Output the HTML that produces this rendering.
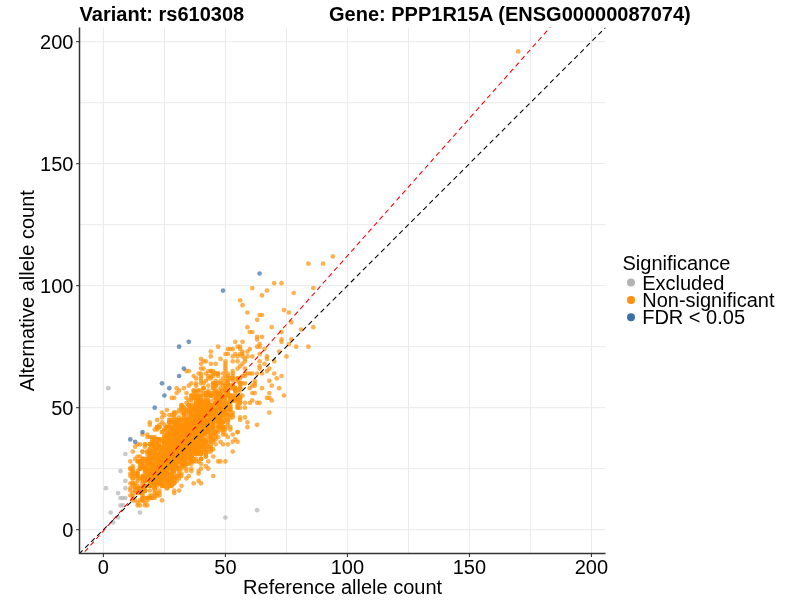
<!DOCTYPE html>
<html><head><meta charset="utf-8"><title>plot</title>
<style>
html,body{margin:0;padding:0;background:#fff;}
svg{display:block;will-change:transform;}
text{font-family:"Liberation Sans",sans-serif;font-size:20px;fill:#000;}
.b{font-weight:bold;}
.g line{stroke:#EAEAEA;stroke-width:1;}
.o circle{fill:#FF9208;fill-opacity:0.7;}
.x circle{fill:#B3B3B3;fill-opacity:0.7;}
.s circle{fill:#3A6FA8;fill-opacity:0.7;}
</style></head><body>
<svg width="800" height="600" viewBox="0 0 800 600">
<rect width="800" height="600" fill="#fff"/>

<g class="g">
<line x1="103.41" x2="103.41" y1="27.5" y2="553.6"/>
<line y1="529.69" y2="529.69" x1="79.5" x2="605.6"/>
<line x1="164.42" x2="164.42" y1="27.5" y2="553.6"/>
<line y1="468.68" y2="468.68" x1="79.5" x2="605.6"/>
<line x1="225.42" x2="225.42" y1="27.5" y2="553.6"/>
<line y1="407.68" y2="407.68" x1="79.5" x2="605.6"/>
<line x1="286.43" x2="286.43" y1="27.5" y2="553.6"/>
<line y1="346.67" y2="346.67" x1="79.5" x2="605.6"/>
<line x1="347.43" x2="347.43" y1="27.5" y2="553.6"/>
<line y1="285.67" y2="285.67" x1="79.5" x2="605.6"/>
<line x1="408.43" x2="408.43" y1="27.5" y2="553.6"/>
<line y1="224.67" y2="224.67" x1="79.5" x2="605.6"/>
<line x1="469.44" x2="469.44" y1="27.5" y2="553.6"/>
<line y1="163.66" y2="163.66" x1="79.5" x2="605.6"/>
<line x1="530.44" x2="530.44" y1="27.5" y2="553.6"/>
<line y1="102.66" y2="102.66" x1="79.5" x2="605.6"/>
<line x1="591.45" x2="591.45" y1="27.5" y2="553.6"/>
<line y1="41.65" y2="41.65" x1="79.5" x2="605.6"/>
</g>
<g class="x">
<circle cx="125.4" cy="454.0" r="2.35"/>
<circle cx="120.5" cy="471.1" r="2.35"/>
<circle cx="125.4" cy="480.9" r="2.35"/>
<circle cx="105.9" cy="488.2" r="2.35"/>
<circle cx="125.4" cy="488.2" r="2.35"/>
<circle cx="118.1" cy="493.1" r="2.35"/>
<circle cx="120.5" cy="498.0" r="2.35"/>
<circle cx="122.9" cy="498.0" r="2.35"/>
<circle cx="125.4" cy="498.0" r="2.35"/>
<circle cx="120.5" cy="505.3" r="2.35"/>
<circle cx="122.9" cy="505.3" r="2.35"/>
<circle cx="110.7" cy="512.6" r="2.35"/>
<circle cx="140.0" cy="512.6" r="2.35"/>
<circle cx="118.1" cy="517.5" r="2.35"/>
<circle cx="113.2" cy="522.4" r="2.35"/>
<circle cx="108.3" cy="388.2" r="2.35"/>
<circle cx="225.4" cy="517.5" r="2.35"/>
<circle cx="257.1" cy="510.2" r="2.35"/>
</g>
<g class="o">
<circle cx="188.8" cy="437.0" r="2.35"/>
<circle cx="183.9" cy="449.2" r="2.35"/>
<circle cx="174.2" cy="449.2" r="2.35"/>
<circle cx="193.7" cy="439.4" r="2.35"/>
<circle cx="164.4" cy="441.8" r="2.35"/>
<circle cx="196.1" cy="412.6" r="2.35"/>
<circle cx="179.1" cy="422.3" r="2.35"/>
<circle cx="181.5" cy="432.1" r="2.35"/>
<circle cx="162.0" cy="480.9" r="2.35"/>
<circle cx="144.9" cy="485.8" r="2.35"/>
<circle cx="147.3" cy="463.8" r="2.35"/>
<circle cx="196.1" cy="434.5" r="2.35"/>
<circle cx="188.8" cy="441.8" r="2.35"/>
<circle cx="154.7" cy="483.3" r="2.35"/>
<circle cx="179.1" cy="419.9" r="2.35"/>
<circle cx="159.5" cy="454.0" r="2.35"/>
<circle cx="166.9" cy="461.4" r="2.35"/>
<circle cx="218.1" cy="405.2" r="2.35"/>
<circle cx="179.1" cy="434.5" r="2.35"/>
<circle cx="181.5" cy="427.2" r="2.35"/>
<circle cx="183.9" cy="427.2" r="2.35"/>
<circle cx="152.2" cy="480.9" r="2.35"/>
<circle cx="186.4" cy="427.2" r="2.35"/>
<circle cx="149.8" cy="463.8" r="2.35"/>
<circle cx="218.1" cy="422.3" r="2.35"/>
<circle cx="215.7" cy="419.9" r="2.35"/>
<circle cx="171.7" cy="458.9" r="2.35"/>
<circle cx="174.2" cy="449.2" r="2.35"/>
<circle cx="147.3" cy="461.4" r="2.35"/>
<circle cx="176.6" cy="437.0" r="2.35"/>
<circle cx="227.9" cy="395.5" r="2.35"/>
<circle cx="164.4" cy="458.9" r="2.35"/>
<circle cx="188.8" cy="444.3" r="2.35"/>
<circle cx="205.9" cy="407.7" r="2.35"/>
<circle cx="162.0" cy="432.1" r="2.35"/>
<circle cx="181.5" cy="437.0" r="2.35"/>
<circle cx="162.0" cy="471.1" r="2.35"/>
<circle cx="176.6" cy="451.6" r="2.35"/>
<circle cx="198.6" cy="402.8" r="2.35"/>
<circle cx="203.5" cy="407.7" r="2.35"/>
<circle cx="225.4" cy="400.4" r="2.35"/>
<circle cx="198.6" cy="407.7" r="2.35"/>
<circle cx="193.7" cy="419.9" r="2.35"/>
<circle cx="140.0" cy="488.2" r="2.35"/>
<circle cx="159.5" cy="458.9" r="2.35"/>
<circle cx="174.2" cy="458.9" r="2.35"/>
<circle cx="208.3" cy="424.8" r="2.35"/>
<circle cx="181.5" cy="441.8" r="2.35"/>
<circle cx="213.2" cy="427.2" r="2.35"/>
<circle cx="196.1" cy="449.2" r="2.35"/>
<circle cx="147.3" cy="454.0" r="2.35"/>
<circle cx="166.9" cy="463.8" r="2.35"/>
<circle cx="193.7" cy="429.6" r="2.35"/>
<circle cx="171.7" cy="454.0" r="2.35"/>
<circle cx="142.5" cy="488.2" r="2.35"/>
<circle cx="198.6" cy="424.8" r="2.35"/>
<circle cx="213.2" cy="405.2" r="2.35"/>
<circle cx="220.5" cy="417.4" r="2.35"/>
<circle cx="203.5" cy="400.4" r="2.35"/>
<circle cx="154.7" cy="483.3" r="2.35"/>
<circle cx="171.7" cy="473.6" r="2.35"/>
<circle cx="164.4" cy="444.3" r="2.35"/>
<circle cx="166.9" cy="461.4" r="2.35"/>
<circle cx="162.0" cy="478.4" r="2.35"/>
<circle cx="179.1" cy="437.0" r="2.35"/>
<circle cx="198.6" cy="446.7" r="2.35"/>
<circle cx="176.6" cy="444.3" r="2.35"/>
<circle cx="181.5" cy="449.2" r="2.35"/>
<circle cx="171.7" cy="466.2" r="2.35"/>
<circle cx="164.4" cy="451.6" r="2.35"/>
<circle cx="188.8" cy="415.0" r="2.35"/>
<circle cx="159.5" cy="483.3" r="2.35"/>
<circle cx="154.7" cy="439.4" r="2.35"/>
<circle cx="215.7" cy="415.0" r="2.35"/>
<circle cx="208.3" cy="451.6" r="2.35"/>
<circle cx="169.3" cy="427.2" r="2.35"/>
<circle cx="157.1" cy="471.1" r="2.35"/>
<circle cx="179.1" cy="456.5" r="2.35"/>
<circle cx="193.7" cy="444.3" r="2.35"/>
<circle cx="183.9" cy="461.4" r="2.35"/>
<circle cx="166.9" cy="434.5" r="2.35"/>
<circle cx="188.8" cy="437.0" r="2.35"/>
<circle cx="191.3" cy="395.5" r="2.35"/>
<circle cx="174.2" cy="456.5" r="2.35"/>
<circle cx="174.2" cy="432.1" r="2.35"/>
<circle cx="215.7" cy="412.6" r="2.35"/>
<circle cx="220.5" cy="405.2" r="2.35"/>
<circle cx="218.1" cy="407.7" r="2.35"/>
<circle cx="203.5" cy="393.0" r="2.35"/>
<circle cx="237.6" cy="378.4" r="2.35"/>
<circle cx="154.7" cy="488.2" r="2.35"/>
<circle cx="157.1" cy="461.4" r="2.35"/>
<circle cx="220.5" cy="412.6" r="2.35"/>
<circle cx="179.1" cy="424.8" r="2.35"/>
<circle cx="188.8" cy="434.5" r="2.35"/>
<circle cx="144.9" cy="471.1" r="2.35"/>
<circle cx="157.1" cy="458.9" r="2.35"/>
<circle cx="205.9" cy="422.3" r="2.35"/>
<circle cx="191.3" cy="412.6" r="2.35"/>
<circle cx="171.7" cy="458.9" r="2.35"/>
<circle cx="157.1" cy="456.5" r="2.35"/>
<circle cx="176.6" cy="468.7" r="2.35"/>
<circle cx="196.1" cy="422.3" r="2.35"/>
<circle cx="149.8" cy="471.1" r="2.35"/>
<circle cx="191.3" cy="446.7" r="2.35"/>
<circle cx="154.7" cy="478.4" r="2.35"/>
<circle cx="215.7" cy="415.0" r="2.35"/>
<circle cx="183.9" cy="427.2" r="2.35"/>
<circle cx="232.7" cy="400.4" r="2.35"/>
<circle cx="135.1" cy="488.2" r="2.35"/>
<circle cx="166.9" cy="454.0" r="2.35"/>
<circle cx="157.1" cy="468.7" r="2.35"/>
<circle cx="213.2" cy="383.3" r="2.35"/>
<circle cx="191.3" cy="437.0" r="2.35"/>
<circle cx="179.1" cy="424.8" r="2.35"/>
<circle cx="198.6" cy="410.1" r="2.35"/>
<circle cx="157.1" cy="463.8" r="2.35"/>
<circle cx="171.7" cy="458.9" r="2.35"/>
<circle cx="159.5" cy="476.0" r="2.35"/>
<circle cx="188.8" cy="439.4" r="2.35"/>
<circle cx="169.3" cy="444.3" r="2.35"/>
<circle cx="196.1" cy="419.9" r="2.35"/>
<circle cx="198.6" cy="432.1" r="2.35"/>
<circle cx="188.8" cy="432.1" r="2.35"/>
<circle cx="176.6" cy="441.8" r="2.35"/>
<circle cx="193.7" cy="441.8" r="2.35"/>
<circle cx="179.1" cy="461.4" r="2.35"/>
<circle cx="220.5" cy="402.8" r="2.35"/>
<circle cx="210.8" cy="415.0" r="2.35"/>
<circle cx="196.1" cy="432.1" r="2.35"/>
<circle cx="188.8" cy="449.2" r="2.35"/>
<circle cx="181.5" cy="434.5" r="2.35"/>
<circle cx="203.5" cy="419.9" r="2.35"/>
<circle cx="188.8" cy="458.9" r="2.35"/>
<circle cx="169.3" cy="422.3" r="2.35"/>
<circle cx="179.1" cy="451.6" r="2.35"/>
<circle cx="183.9" cy="446.7" r="2.35"/>
<circle cx="147.3" cy="478.4" r="2.35"/>
<circle cx="166.9" cy="463.8" r="2.35"/>
<circle cx="166.9" cy="458.9" r="2.35"/>
<circle cx="140.0" cy="461.4" r="2.35"/>
<circle cx="176.6" cy="444.3" r="2.35"/>
<circle cx="186.4" cy="422.3" r="2.35"/>
<circle cx="149.8" cy="454.0" r="2.35"/>
<circle cx="166.9" cy="427.2" r="2.35"/>
<circle cx="191.3" cy="419.9" r="2.35"/>
<circle cx="149.8" cy="458.9" r="2.35"/>
<circle cx="171.7" cy="471.1" r="2.35"/>
<circle cx="201.0" cy="412.6" r="2.35"/>
<circle cx="186.4" cy="446.7" r="2.35"/>
<circle cx="164.4" cy="466.2" r="2.35"/>
<circle cx="171.7" cy="449.2" r="2.35"/>
<circle cx="174.2" cy="434.5" r="2.35"/>
<circle cx="183.9" cy="415.0" r="2.35"/>
<circle cx="181.5" cy="432.1" r="2.35"/>
<circle cx="174.2" cy="427.2" r="2.35"/>
<circle cx="201.0" cy="446.7" r="2.35"/>
<circle cx="203.5" cy="427.2" r="2.35"/>
<circle cx="159.5" cy="483.3" r="2.35"/>
<circle cx="208.3" cy="410.1" r="2.35"/>
<circle cx="132.7" cy="468.7" r="2.35"/>
<circle cx="162.0" cy="449.2" r="2.35"/>
<circle cx="169.3" cy="461.4" r="2.35"/>
<circle cx="176.6" cy="429.6" r="2.35"/>
<circle cx="162.0" cy="473.6" r="2.35"/>
<circle cx="159.5" cy="471.1" r="2.35"/>
<circle cx="218.1" cy="393.0" r="2.35"/>
<circle cx="176.6" cy="434.5" r="2.35"/>
<circle cx="174.2" cy="444.3" r="2.35"/>
<circle cx="147.3" cy="471.1" r="2.35"/>
<circle cx="191.3" cy="451.6" r="2.35"/>
<circle cx="227.9" cy="407.7" r="2.35"/>
<circle cx="171.7" cy="463.8" r="2.35"/>
<circle cx="196.1" cy="419.9" r="2.35"/>
<circle cx="220.5" cy="397.9" r="2.35"/>
<circle cx="154.7" cy="468.7" r="2.35"/>
<circle cx="196.1" cy="390.6" r="2.35"/>
<circle cx="130.3" cy="473.6" r="2.35"/>
<circle cx="213.2" cy="422.3" r="2.35"/>
<circle cx="181.5" cy="454.0" r="2.35"/>
<circle cx="142.5" cy="451.6" r="2.35"/>
<circle cx="183.9" cy="444.3" r="2.35"/>
<circle cx="157.1" cy="444.3" r="2.35"/>
<circle cx="132.7" cy="466.2" r="2.35"/>
<circle cx="225.4" cy="405.2" r="2.35"/>
<circle cx="225.4" cy="397.9" r="2.35"/>
<circle cx="159.5" cy="466.2" r="2.35"/>
<circle cx="183.9" cy="458.9" r="2.35"/>
<circle cx="181.5" cy="461.4" r="2.35"/>
<circle cx="181.5" cy="449.2" r="2.35"/>
<circle cx="147.3" cy="463.8" r="2.35"/>
<circle cx="220.5" cy="407.7" r="2.35"/>
<circle cx="188.8" cy="437.0" r="2.35"/>
<circle cx="166.9" cy="468.7" r="2.35"/>
<circle cx="183.9" cy="463.8" r="2.35"/>
<circle cx="152.2" cy="444.3" r="2.35"/>
<circle cx="213.2" cy="422.3" r="2.35"/>
<circle cx="201.0" cy="410.1" r="2.35"/>
<circle cx="171.7" cy="480.9" r="2.35"/>
<circle cx="183.9" cy="429.6" r="2.35"/>
<circle cx="152.2" cy="451.6" r="2.35"/>
<circle cx="154.7" cy="490.6" r="2.35"/>
<circle cx="157.1" cy="463.8" r="2.35"/>
<circle cx="196.1" cy="449.2" r="2.35"/>
<circle cx="144.9" cy="473.6" r="2.35"/>
<circle cx="166.9" cy="458.9" r="2.35"/>
<circle cx="196.1" cy="419.9" r="2.35"/>
<circle cx="154.7" cy="444.3" r="2.35"/>
<circle cx="162.0" cy="454.0" r="2.35"/>
<circle cx="149.8" cy="451.6" r="2.35"/>
<circle cx="137.6" cy="478.4" r="2.35"/>
<circle cx="188.8" cy="456.5" r="2.35"/>
<circle cx="183.9" cy="434.5" r="2.35"/>
<circle cx="183.9" cy="429.6" r="2.35"/>
<circle cx="171.7" cy="478.4" r="2.35"/>
<circle cx="149.8" cy="454.0" r="2.35"/>
<circle cx="210.8" cy="410.1" r="2.35"/>
<circle cx="159.5" cy="461.4" r="2.35"/>
<circle cx="186.4" cy="456.5" r="2.35"/>
<circle cx="157.1" cy="463.8" r="2.35"/>
<circle cx="162.0" cy="468.7" r="2.35"/>
<circle cx="149.8" cy="476.0" r="2.35"/>
<circle cx="164.4" cy="437.0" r="2.35"/>
<circle cx="152.2" cy="495.5" r="2.35"/>
<circle cx="205.9" cy="456.5" r="2.35"/>
<circle cx="193.7" cy="449.2" r="2.35"/>
<circle cx="193.7" cy="446.7" r="2.35"/>
<circle cx="225.4" cy="380.8" r="2.35"/>
<circle cx="191.3" cy="449.2" r="2.35"/>
<circle cx="181.5" cy="434.5" r="2.35"/>
<circle cx="176.6" cy="468.7" r="2.35"/>
<circle cx="179.1" cy="434.5" r="2.35"/>
<circle cx="164.4" cy="424.8" r="2.35"/>
<circle cx="171.7" cy="473.6" r="2.35"/>
<circle cx="166.9" cy="446.7" r="2.35"/>
<circle cx="196.1" cy="444.3" r="2.35"/>
<circle cx="183.9" cy="429.6" r="2.35"/>
<circle cx="164.4" cy="449.2" r="2.35"/>
<circle cx="203.5" cy="441.8" r="2.35"/>
<circle cx="186.4" cy="461.4" r="2.35"/>
<circle cx="176.6" cy="478.4" r="2.35"/>
<circle cx="179.1" cy="458.9" r="2.35"/>
<circle cx="164.4" cy="478.4" r="2.35"/>
<circle cx="205.9" cy="446.7" r="2.35"/>
<circle cx="174.2" cy="449.2" r="2.35"/>
<circle cx="142.5" cy="476.0" r="2.35"/>
<circle cx="205.9" cy="439.4" r="2.35"/>
<circle cx="203.5" cy="427.2" r="2.35"/>
<circle cx="179.1" cy="444.3" r="2.35"/>
<circle cx="203.5" cy="424.8" r="2.35"/>
<circle cx="157.1" cy="483.3" r="2.35"/>
<circle cx="218.1" cy="383.3" r="2.35"/>
<circle cx="186.4" cy="419.9" r="2.35"/>
<circle cx="210.8" cy="395.5" r="2.35"/>
<circle cx="135.1" cy="500.4" r="2.35"/>
<circle cx="154.7" cy="439.4" r="2.35"/>
<circle cx="181.5" cy="451.6" r="2.35"/>
<circle cx="171.7" cy="427.2" r="2.35"/>
<circle cx="162.0" cy="478.4" r="2.35"/>
<circle cx="196.1" cy="417.4" r="2.35"/>
<circle cx="191.3" cy="432.1" r="2.35"/>
<circle cx="174.2" cy="466.2" r="2.35"/>
<circle cx="213.2" cy="412.6" r="2.35"/>
<circle cx="183.9" cy="451.6" r="2.35"/>
<circle cx="181.5" cy="410.1" r="2.35"/>
<circle cx="166.9" cy="437.0" r="2.35"/>
<circle cx="162.0" cy="458.9" r="2.35"/>
<circle cx="166.9" cy="437.0" r="2.35"/>
<circle cx="186.4" cy="410.1" r="2.35"/>
<circle cx="176.6" cy="427.2" r="2.35"/>
<circle cx="213.2" cy="427.2" r="2.35"/>
<circle cx="201.0" cy="429.6" r="2.35"/>
<circle cx="225.4" cy="419.9" r="2.35"/>
<circle cx="196.1" cy="446.7" r="2.35"/>
<circle cx="174.2" cy="427.2" r="2.35"/>
<circle cx="166.9" cy="427.2" r="2.35"/>
<circle cx="215.7" cy="410.1" r="2.35"/>
<circle cx="154.7" cy="480.9" r="2.35"/>
<circle cx="198.6" cy="424.8" r="2.35"/>
<circle cx="140.0" cy="468.7" r="2.35"/>
<circle cx="205.9" cy="422.3" r="2.35"/>
<circle cx="183.9" cy="461.4" r="2.35"/>
<circle cx="176.6" cy="439.4" r="2.35"/>
<circle cx="191.3" cy="427.2" r="2.35"/>
<circle cx="196.1" cy="400.4" r="2.35"/>
<circle cx="159.5" cy="458.9" r="2.35"/>
<circle cx="169.3" cy="439.4" r="2.35"/>
<circle cx="188.8" cy="424.8" r="2.35"/>
<circle cx="164.4" cy="449.2" r="2.35"/>
<circle cx="225.4" cy="388.2" r="2.35"/>
<circle cx="196.1" cy="432.1" r="2.35"/>
<circle cx="183.9" cy="439.4" r="2.35"/>
<circle cx="179.1" cy="419.9" r="2.35"/>
<circle cx="149.8" cy="444.3" r="2.35"/>
<circle cx="147.3" cy="471.1" r="2.35"/>
<circle cx="174.2" cy="466.2" r="2.35"/>
<circle cx="201.0" cy="437.0" r="2.35"/>
<circle cx="179.1" cy="449.2" r="2.35"/>
<circle cx="149.8" cy="449.2" r="2.35"/>
<circle cx="157.1" cy="461.4" r="2.35"/>
<circle cx="186.4" cy="437.0" r="2.35"/>
<circle cx="183.9" cy="454.0" r="2.35"/>
<circle cx="201.0" cy="402.8" r="2.35"/>
<circle cx="157.1" cy="463.8" r="2.35"/>
<circle cx="183.9" cy="439.4" r="2.35"/>
<circle cx="179.1" cy="449.2" r="2.35"/>
<circle cx="186.4" cy="402.8" r="2.35"/>
<circle cx="162.0" cy="439.4" r="2.35"/>
<circle cx="201.0" cy="402.8" r="2.35"/>
<circle cx="169.3" cy="458.9" r="2.35"/>
<circle cx="188.8" cy="449.2" r="2.35"/>
<circle cx="210.8" cy="415.0" r="2.35"/>
<circle cx="154.7" cy="488.2" r="2.35"/>
<circle cx="162.0" cy="454.0" r="2.35"/>
<circle cx="169.3" cy="454.0" r="2.35"/>
<circle cx="130.3" cy="488.2" r="2.35"/>
<circle cx="186.4" cy="419.9" r="2.35"/>
<circle cx="142.5" cy="480.9" r="2.35"/>
<circle cx="171.7" cy="485.8" r="2.35"/>
<circle cx="188.8" cy="432.1" r="2.35"/>
<circle cx="205.9" cy="432.1" r="2.35"/>
<circle cx="196.1" cy="424.8" r="2.35"/>
<circle cx="166.9" cy="434.5" r="2.35"/>
<circle cx="144.9" cy="478.4" r="2.35"/>
<circle cx="164.4" cy="451.6" r="2.35"/>
<circle cx="183.9" cy="437.0" r="2.35"/>
<circle cx="183.9" cy="449.2" r="2.35"/>
<circle cx="181.5" cy="456.5" r="2.35"/>
<circle cx="198.6" cy="461.4" r="2.35"/>
<circle cx="218.1" cy="419.9" r="2.35"/>
<circle cx="186.4" cy="446.7" r="2.35"/>
<circle cx="198.6" cy="429.6" r="2.35"/>
<circle cx="201.0" cy="444.3" r="2.35"/>
<circle cx="174.2" cy="461.4" r="2.35"/>
<circle cx="223.0" cy="427.2" r="2.35"/>
<circle cx="215.7" cy="415.0" r="2.35"/>
<circle cx="162.0" cy="449.2" r="2.35"/>
<circle cx="159.5" cy="458.9" r="2.35"/>
<circle cx="181.5" cy="451.6" r="2.35"/>
<circle cx="169.3" cy="456.5" r="2.35"/>
<circle cx="193.7" cy="422.3" r="2.35"/>
<circle cx="162.0" cy="422.3" r="2.35"/>
<circle cx="171.7" cy="463.8" r="2.35"/>
<circle cx="152.2" cy="466.2" r="2.35"/>
<circle cx="162.0" cy="449.2" r="2.35"/>
<circle cx="193.7" cy="446.7" r="2.35"/>
<circle cx="208.3" cy="410.1" r="2.35"/>
<circle cx="196.1" cy="422.3" r="2.35"/>
<circle cx="210.8" cy="417.4" r="2.35"/>
<circle cx="223.0" cy="383.3" r="2.35"/>
<circle cx="188.8" cy="412.6" r="2.35"/>
<circle cx="142.5" cy="466.2" r="2.35"/>
<circle cx="181.5" cy="446.7" r="2.35"/>
<circle cx="152.2" cy="473.6" r="2.35"/>
<circle cx="157.1" cy="493.1" r="2.35"/>
<circle cx="181.5" cy="437.0" r="2.35"/>
<circle cx="181.5" cy="424.8" r="2.35"/>
<circle cx="203.5" cy="415.0" r="2.35"/>
<circle cx="181.5" cy="432.1" r="2.35"/>
<circle cx="166.9" cy="444.3" r="2.35"/>
<circle cx="201.0" cy="395.5" r="2.35"/>
<circle cx="176.6" cy="454.0" r="2.35"/>
<circle cx="159.5" cy="461.4" r="2.35"/>
<circle cx="174.2" cy="451.6" r="2.35"/>
<circle cx="154.7" cy="478.4" r="2.35"/>
<circle cx="191.3" cy="429.6" r="2.35"/>
<circle cx="154.7" cy="493.1" r="2.35"/>
<circle cx="205.9" cy="400.4" r="2.35"/>
<circle cx="169.3" cy="422.3" r="2.35"/>
<circle cx="191.3" cy="397.9" r="2.35"/>
<circle cx="147.3" cy="458.9" r="2.35"/>
<circle cx="210.8" cy="378.4" r="2.35"/>
<circle cx="225.4" cy="410.1" r="2.35"/>
<circle cx="183.9" cy="441.8" r="2.35"/>
<circle cx="193.7" cy="390.6" r="2.35"/>
<circle cx="196.1" cy="449.2" r="2.35"/>
<circle cx="220.5" cy="383.3" r="2.35"/>
<circle cx="142.5" cy="478.4" r="2.35"/>
<circle cx="188.8" cy="437.0" r="2.35"/>
<circle cx="208.3" cy="402.8" r="2.35"/>
<circle cx="220.5" cy="410.1" r="2.35"/>
<circle cx="201.0" cy="397.9" r="2.35"/>
<circle cx="181.5" cy="419.9" r="2.35"/>
<circle cx="176.6" cy="476.0" r="2.35"/>
<circle cx="205.9" cy="424.8" r="2.35"/>
<circle cx="179.1" cy="454.0" r="2.35"/>
<circle cx="191.3" cy="456.5" r="2.35"/>
<circle cx="193.7" cy="451.6" r="2.35"/>
<circle cx="186.4" cy="437.0" r="2.35"/>
<circle cx="164.4" cy="466.2" r="2.35"/>
<circle cx="225.4" cy="429.6" r="2.35"/>
<circle cx="198.6" cy="437.0" r="2.35"/>
<circle cx="220.5" cy="388.2" r="2.35"/>
<circle cx="220.5" cy="419.9" r="2.35"/>
<circle cx="174.2" cy="417.4" r="2.35"/>
<circle cx="142.5" cy="461.4" r="2.35"/>
<circle cx="201.0" cy="454.0" r="2.35"/>
<circle cx="205.9" cy="441.8" r="2.35"/>
<circle cx="191.3" cy="422.3" r="2.35"/>
<circle cx="201.0" cy="446.7" r="2.35"/>
<circle cx="174.2" cy="454.0" r="2.35"/>
<circle cx="220.5" cy="407.7" r="2.35"/>
<circle cx="186.4" cy="424.8" r="2.35"/>
<circle cx="208.3" cy="437.0" r="2.35"/>
<circle cx="215.7" cy="380.8" r="2.35"/>
<circle cx="227.9" cy="393.0" r="2.35"/>
<circle cx="174.2" cy="483.3" r="2.35"/>
<circle cx="179.1" cy="434.5" r="2.35"/>
<circle cx="171.7" cy="441.8" r="2.35"/>
<circle cx="230.3" cy="395.5" r="2.35"/>
<circle cx="203.5" cy="424.8" r="2.35"/>
<circle cx="164.4" cy="451.6" r="2.35"/>
<circle cx="174.2" cy="424.8" r="2.35"/>
<circle cx="171.7" cy="449.2" r="2.35"/>
<circle cx="181.5" cy="429.6" r="2.35"/>
<circle cx="176.6" cy="451.6" r="2.35"/>
<circle cx="196.1" cy="432.1" r="2.35"/>
<circle cx="237.6" cy="400.4" r="2.35"/>
<circle cx="215.7" cy="410.1" r="2.35"/>
<circle cx="132.7" cy="478.4" r="2.35"/>
<circle cx="203.5" cy="407.7" r="2.35"/>
<circle cx="201.0" cy="400.4" r="2.35"/>
<circle cx="215.7" cy="434.5" r="2.35"/>
<circle cx="179.1" cy="432.1" r="2.35"/>
<circle cx="142.5" cy="498.0" r="2.35"/>
<circle cx="166.9" cy="473.6" r="2.35"/>
<circle cx="188.8" cy="451.6" r="2.35"/>
<circle cx="186.4" cy="410.1" r="2.35"/>
<circle cx="157.1" cy="456.5" r="2.35"/>
<circle cx="193.7" cy="444.3" r="2.35"/>
<circle cx="193.7" cy="451.6" r="2.35"/>
<circle cx="183.9" cy="441.8" r="2.35"/>
<circle cx="191.3" cy="439.4" r="2.35"/>
<circle cx="188.8" cy="400.4" r="2.35"/>
<circle cx="191.3" cy="461.4" r="2.35"/>
<circle cx="201.0" cy="458.9" r="2.35"/>
<circle cx="166.9" cy="466.2" r="2.35"/>
<circle cx="176.6" cy="449.2" r="2.35"/>
<circle cx="164.4" cy="458.9" r="2.35"/>
<circle cx="191.3" cy="415.0" r="2.35"/>
<circle cx="174.2" cy="461.4" r="2.35"/>
<circle cx="186.4" cy="432.1" r="2.35"/>
<circle cx="137.6" cy="476.0" r="2.35"/>
<circle cx="140.0" cy="493.1" r="2.35"/>
<circle cx="157.1" cy="446.7" r="2.35"/>
<circle cx="181.5" cy="444.3" r="2.35"/>
<circle cx="137.6" cy="461.4" r="2.35"/>
<circle cx="157.1" cy="463.8" r="2.35"/>
<circle cx="171.7" cy="473.6" r="2.35"/>
<circle cx="166.9" cy="473.6" r="2.35"/>
<circle cx="166.9" cy="488.2" r="2.35"/>
<circle cx="193.7" cy="461.4" r="2.35"/>
<circle cx="203.5" cy="415.0" r="2.35"/>
<circle cx="183.9" cy="419.9" r="2.35"/>
<circle cx="144.9" cy="446.7" r="2.35"/>
<circle cx="181.5" cy="444.3" r="2.35"/>
<circle cx="188.8" cy="439.4" r="2.35"/>
<circle cx="152.2" cy="498.0" r="2.35"/>
<circle cx="205.9" cy="395.5" r="2.35"/>
<circle cx="162.0" cy="456.5" r="2.35"/>
<circle cx="159.5" cy="480.9" r="2.35"/>
<circle cx="154.7" cy="463.8" r="2.35"/>
<circle cx="159.5" cy="454.0" r="2.35"/>
<circle cx="215.7" cy="402.8" r="2.35"/>
<circle cx="181.5" cy="451.6" r="2.35"/>
<circle cx="152.2" cy="480.9" r="2.35"/>
<circle cx="157.1" cy="441.8" r="2.35"/>
<circle cx="166.9" cy="478.4" r="2.35"/>
<circle cx="232.7" cy="400.4" r="2.35"/>
<circle cx="154.7" cy="456.5" r="2.35"/>
<circle cx="159.5" cy="490.6" r="2.35"/>
<circle cx="140.0" cy="500.4" r="2.35"/>
<circle cx="196.1" cy="461.4" r="2.35"/>
<circle cx="174.2" cy="412.6" r="2.35"/>
<circle cx="171.7" cy="434.5" r="2.35"/>
<circle cx="135.1" cy="485.8" r="2.35"/>
<circle cx="166.9" cy="456.5" r="2.35"/>
<circle cx="198.6" cy="434.5" r="2.35"/>
<circle cx="174.2" cy="458.9" r="2.35"/>
<circle cx="191.3" cy="417.4" r="2.35"/>
<circle cx="157.1" cy="483.3" r="2.35"/>
<circle cx="162.0" cy="476.0" r="2.35"/>
<circle cx="191.3" cy="451.6" r="2.35"/>
<circle cx="169.3" cy="432.1" r="2.35"/>
<circle cx="213.2" cy="412.6" r="2.35"/>
<circle cx="169.3" cy="444.3" r="2.35"/>
<circle cx="188.8" cy="441.8" r="2.35"/>
<circle cx="193.7" cy="419.9" r="2.35"/>
<circle cx="210.8" cy="437.0" r="2.35"/>
<circle cx="171.7" cy="429.6" r="2.35"/>
<circle cx="227.9" cy="424.8" r="2.35"/>
<circle cx="164.4" cy="456.5" r="2.35"/>
<circle cx="164.4" cy="451.6" r="2.35"/>
<circle cx="166.9" cy="456.5" r="2.35"/>
<circle cx="179.1" cy="471.1" r="2.35"/>
<circle cx="159.5" cy="449.2" r="2.35"/>
<circle cx="201.0" cy="451.6" r="2.35"/>
<circle cx="210.8" cy="417.4" r="2.35"/>
<circle cx="174.2" cy="466.2" r="2.35"/>
<circle cx="201.0" cy="429.6" r="2.35"/>
<circle cx="164.4" cy="444.3" r="2.35"/>
<circle cx="186.4" cy="427.2" r="2.35"/>
<circle cx="201.0" cy="407.7" r="2.35"/>
<circle cx="171.7" cy="473.6" r="2.35"/>
<circle cx="193.7" cy="437.0" r="2.35"/>
<circle cx="169.3" cy="466.2" r="2.35"/>
<circle cx="179.1" cy="437.0" r="2.35"/>
<circle cx="159.5" cy="454.0" r="2.35"/>
<circle cx="157.1" cy="456.5" r="2.35"/>
<circle cx="191.3" cy="437.0" r="2.35"/>
<circle cx="191.3" cy="461.4" r="2.35"/>
<circle cx="203.5" cy="419.9" r="2.35"/>
<circle cx="183.9" cy="449.2" r="2.35"/>
<circle cx="152.2" cy="463.8" r="2.35"/>
<circle cx="137.6" cy="490.6" r="2.35"/>
<circle cx="186.4" cy="422.3" r="2.35"/>
<circle cx="169.3" cy="463.8" r="2.35"/>
<circle cx="174.2" cy="422.3" r="2.35"/>
<circle cx="174.2" cy="471.1" r="2.35"/>
<circle cx="188.8" cy="422.3" r="2.35"/>
<circle cx="230.3" cy="417.4" r="2.35"/>
<circle cx="210.8" cy="395.5" r="2.35"/>
<circle cx="237.6" cy="405.2" r="2.35"/>
<circle cx="181.5" cy="439.4" r="2.35"/>
<circle cx="223.0" cy="415.0" r="2.35"/>
<circle cx="198.6" cy="434.5" r="2.35"/>
<circle cx="176.6" cy="446.7" r="2.35"/>
<circle cx="171.7" cy="454.0" r="2.35"/>
<circle cx="166.9" cy="466.2" r="2.35"/>
<circle cx="196.1" cy="383.3" r="2.35"/>
<circle cx="186.4" cy="439.4" r="2.35"/>
<circle cx="174.2" cy="468.7" r="2.35"/>
<circle cx="171.7" cy="434.5" r="2.35"/>
<circle cx="140.0" cy="466.2" r="2.35"/>
<circle cx="135.1" cy="458.9" r="2.35"/>
<circle cx="240.1" cy="395.5" r="2.35"/>
<circle cx="140.0" cy="468.7" r="2.35"/>
<circle cx="218.1" cy="376.0" r="2.35"/>
<circle cx="169.3" cy="456.5" r="2.35"/>
<circle cx="193.7" cy="424.8" r="2.35"/>
<circle cx="232.7" cy="397.9" r="2.35"/>
<circle cx="191.3" cy="395.5" r="2.35"/>
<circle cx="201.0" cy="458.9" r="2.35"/>
<circle cx="181.5" cy="454.0" r="2.35"/>
<circle cx="174.2" cy="444.3" r="2.35"/>
<circle cx="176.6" cy="412.6" r="2.35"/>
<circle cx="132.7" cy="495.5" r="2.35"/>
<circle cx="166.9" cy="441.8" r="2.35"/>
<circle cx="205.9" cy="441.8" r="2.35"/>
<circle cx="174.2" cy="451.6" r="2.35"/>
<circle cx="144.9" cy="458.9" r="2.35"/>
<circle cx="196.1" cy="417.4" r="2.35"/>
<circle cx="164.4" cy="463.8" r="2.35"/>
<circle cx="208.3" cy="405.2" r="2.35"/>
<circle cx="201.0" cy="429.6" r="2.35"/>
<circle cx="186.4" cy="441.8" r="2.35"/>
<circle cx="225.4" cy="412.6" r="2.35"/>
<circle cx="193.7" cy="422.3" r="2.35"/>
<circle cx="176.6" cy="456.5" r="2.35"/>
<circle cx="208.3" cy="419.9" r="2.35"/>
<circle cx="201.0" cy="422.3" r="2.35"/>
<circle cx="149.8" cy="476.0" r="2.35"/>
<circle cx="162.0" cy="485.8" r="2.35"/>
<circle cx="166.9" cy="463.8" r="2.35"/>
<circle cx="201.0" cy="410.1" r="2.35"/>
<circle cx="225.4" cy="405.2" r="2.35"/>
<circle cx="171.7" cy="432.1" r="2.35"/>
<circle cx="183.9" cy="422.3" r="2.35"/>
<circle cx="196.1" cy="446.7" r="2.35"/>
<circle cx="142.5" cy="478.4" r="2.35"/>
<circle cx="144.9" cy="444.3" r="2.35"/>
<circle cx="198.6" cy="390.6" r="2.35"/>
<circle cx="213.2" cy="410.1" r="2.35"/>
<circle cx="215.7" cy="385.7" r="2.35"/>
<circle cx="213.2" cy="419.9" r="2.35"/>
<circle cx="188.8" cy="424.8" r="2.35"/>
<circle cx="193.7" cy="424.8" r="2.35"/>
<circle cx="147.3" cy="471.1" r="2.35"/>
<circle cx="176.6" cy="439.4" r="2.35"/>
<circle cx="220.5" cy="407.7" r="2.35"/>
<circle cx="205.9" cy="407.7" r="2.35"/>
<circle cx="196.1" cy="410.1" r="2.35"/>
<circle cx="232.7" cy="385.7" r="2.35"/>
<circle cx="174.2" cy="437.0" r="2.35"/>
<circle cx="205.9" cy="429.6" r="2.35"/>
<circle cx="142.5" cy="458.9" r="2.35"/>
<circle cx="152.2" cy="441.8" r="2.35"/>
<circle cx="152.2" cy="468.7" r="2.35"/>
<circle cx="149.8" cy="480.9" r="2.35"/>
<circle cx="213.2" cy="434.5" r="2.35"/>
<circle cx="147.3" cy="473.6" r="2.35"/>
<circle cx="208.3" cy="395.5" r="2.35"/>
<circle cx="191.3" cy="458.9" r="2.35"/>
<circle cx="171.7" cy="441.8" r="2.35"/>
<circle cx="149.8" cy="468.7" r="2.35"/>
<circle cx="193.7" cy="422.3" r="2.35"/>
<circle cx="171.7" cy="476.0" r="2.35"/>
<circle cx="198.6" cy="410.1" r="2.35"/>
<circle cx="223.0" cy="429.6" r="2.35"/>
<circle cx="132.7" cy="471.1" r="2.35"/>
<circle cx="198.6" cy="419.9" r="2.35"/>
<circle cx="198.6" cy="395.5" r="2.35"/>
<circle cx="164.4" cy="473.6" r="2.35"/>
<circle cx="201.0" cy="439.4" r="2.35"/>
<circle cx="203.5" cy="410.1" r="2.35"/>
<circle cx="154.7" cy="454.0" r="2.35"/>
<circle cx="186.4" cy="437.0" r="2.35"/>
<circle cx="191.3" cy="451.6" r="2.35"/>
<circle cx="142.5" cy="478.4" r="2.35"/>
<circle cx="171.7" cy="476.0" r="2.35"/>
<circle cx="193.7" cy="449.2" r="2.35"/>
<circle cx="235.2" cy="390.6" r="2.35"/>
<circle cx="240.1" cy="402.8" r="2.35"/>
<circle cx="162.0" cy="432.1" r="2.35"/>
<circle cx="166.9" cy="483.3" r="2.35"/>
<circle cx="162.0" cy="480.9" r="2.35"/>
<circle cx="193.7" cy="427.2" r="2.35"/>
<circle cx="149.8" cy="461.4" r="2.35"/>
<circle cx="205.9" cy="422.3" r="2.35"/>
<circle cx="213.2" cy="415.0" r="2.35"/>
<circle cx="213.2" cy="407.7" r="2.35"/>
<circle cx="188.8" cy="419.9" r="2.35"/>
<circle cx="164.4" cy="446.7" r="2.35"/>
<circle cx="149.8" cy="485.8" r="2.35"/>
<circle cx="191.3" cy="410.1" r="2.35"/>
<circle cx="164.4" cy="458.9" r="2.35"/>
<circle cx="208.3" cy="407.7" r="2.35"/>
<circle cx="220.5" cy="410.1" r="2.35"/>
<circle cx="198.6" cy="437.0" r="2.35"/>
<circle cx="203.5" cy="446.7" r="2.35"/>
<circle cx="171.7" cy="458.9" r="2.35"/>
<circle cx="188.8" cy="424.8" r="2.35"/>
<circle cx="193.7" cy="437.0" r="2.35"/>
<circle cx="166.9" cy="456.5" r="2.35"/>
<circle cx="235.2" cy="388.2" r="2.35"/>
<circle cx="205.9" cy="419.9" r="2.35"/>
<circle cx="171.7" cy="478.4" r="2.35"/>
<circle cx="208.3" cy="405.2" r="2.35"/>
<circle cx="179.1" cy="461.4" r="2.35"/>
<circle cx="191.3" cy="422.3" r="2.35"/>
<circle cx="225.4" cy="402.8" r="2.35"/>
<circle cx="208.3" cy="400.4" r="2.35"/>
<circle cx="183.9" cy="444.3" r="2.35"/>
<circle cx="176.6" cy="476.0" r="2.35"/>
<circle cx="176.6" cy="449.2" r="2.35"/>
<circle cx="213.2" cy="412.6" r="2.35"/>
<circle cx="176.6" cy="437.0" r="2.35"/>
<circle cx="198.6" cy="400.4" r="2.35"/>
<circle cx="149.8" cy="463.8" r="2.35"/>
<circle cx="208.3" cy="405.2" r="2.35"/>
<circle cx="162.0" cy="449.2" r="2.35"/>
<circle cx="154.7" cy="454.0" r="2.35"/>
<circle cx="166.9" cy="451.6" r="2.35"/>
<circle cx="191.3" cy="429.6" r="2.35"/>
<circle cx="149.8" cy="473.6" r="2.35"/>
<circle cx="176.6" cy="446.7" r="2.35"/>
<circle cx="208.3" cy="419.9" r="2.35"/>
<circle cx="149.8" cy="485.8" r="2.35"/>
<circle cx="218.1" cy="395.5" r="2.35"/>
<circle cx="193.7" cy="449.2" r="2.35"/>
<circle cx="188.8" cy="463.8" r="2.35"/>
<circle cx="171.7" cy="446.7" r="2.35"/>
<circle cx="162.0" cy="463.8" r="2.35"/>
<circle cx="144.9" cy="461.4" r="2.35"/>
<circle cx="169.3" cy="424.8" r="2.35"/>
<circle cx="183.9" cy="432.1" r="2.35"/>
<circle cx="179.1" cy="454.0" r="2.35"/>
<circle cx="169.3" cy="480.9" r="2.35"/>
<circle cx="230.3" cy="388.2" r="2.35"/>
<circle cx="188.8" cy="437.0" r="2.35"/>
<circle cx="179.1" cy="434.5" r="2.35"/>
<circle cx="181.5" cy="458.9" r="2.35"/>
<circle cx="213.2" cy="417.4" r="2.35"/>
<circle cx="144.9" cy="480.9" r="2.35"/>
<circle cx="198.6" cy="390.6" r="2.35"/>
<circle cx="198.6" cy="422.3" r="2.35"/>
<circle cx="205.9" cy="410.1" r="2.35"/>
<circle cx="164.4" cy="434.5" r="2.35"/>
<circle cx="208.3" cy="429.6" r="2.35"/>
<circle cx="181.5" cy="424.8" r="2.35"/>
<circle cx="140.0" cy="488.2" r="2.35"/>
<circle cx="188.8" cy="454.0" r="2.35"/>
<circle cx="137.6" cy="471.1" r="2.35"/>
<circle cx="186.4" cy="437.0" r="2.35"/>
<circle cx="157.1" cy="468.7" r="2.35"/>
<circle cx="152.2" cy="468.7" r="2.35"/>
<circle cx="232.7" cy="385.7" r="2.35"/>
<circle cx="176.6" cy="456.5" r="2.35"/>
<circle cx="171.7" cy="444.3" r="2.35"/>
<circle cx="198.6" cy="432.1" r="2.35"/>
<circle cx="135.1" cy="490.6" r="2.35"/>
<circle cx="166.9" cy="473.6" r="2.35"/>
<circle cx="179.1" cy="476.0" r="2.35"/>
<circle cx="203.5" cy="432.1" r="2.35"/>
<circle cx="196.1" cy="437.0" r="2.35"/>
<circle cx="166.9" cy="458.9" r="2.35"/>
<circle cx="162.0" cy="461.4" r="2.35"/>
<circle cx="174.2" cy="471.1" r="2.35"/>
<circle cx="230.3" cy="397.9" r="2.35"/>
<circle cx="171.7" cy="451.6" r="2.35"/>
<circle cx="183.9" cy="441.8" r="2.35"/>
<circle cx="201.0" cy="437.0" r="2.35"/>
<circle cx="196.1" cy="427.2" r="2.35"/>
<circle cx="159.5" cy="483.3" r="2.35"/>
<circle cx="169.3" cy="422.3" r="2.35"/>
<circle cx="132.7" cy="483.3" r="2.35"/>
<circle cx="179.1" cy="451.6" r="2.35"/>
<circle cx="169.3" cy="434.5" r="2.35"/>
<circle cx="198.6" cy="419.9" r="2.35"/>
<circle cx="157.1" cy="458.9" r="2.35"/>
<circle cx="188.8" cy="429.6" r="2.35"/>
<circle cx="181.5" cy="463.8" r="2.35"/>
<circle cx="176.6" cy="429.6" r="2.35"/>
<circle cx="159.5" cy="466.2" r="2.35"/>
<circle cx="223.0" cy="415.0" r="2.35"/>
<circle cx="220.5" cy="417.4" r="2.35"/>
<circle cx="137.6" cy="473.6" r="2.35"/>
<circle cx="179.1" cy="451.6" r="2.35"/>
<circle cx="171.7" cy="451.6" r="2.35"/>
<circle cx="132.7" cy="483.3" r="2.35"/>
<circle cx="149.8" cy="473.6" r="2.35"/>
<circle cx="191.3" cy="463.8" r="2.35"/>
<circle cx="147.3" cy="468.7" r="2.35"/>
<circle cx="176.6" cy="427.2" r="2.35"/>
<circle cx="196.1" cy="407.7" r="2.35"/>
<circle cx="149.8" cy="444.3" r="2.35"/>
<circle cx="198.6" cy="417.4" r="2.35"/>
<circle cx="220.5" cy="380.8" r="2.35"/>
<circle cx="152.2" cy="444.3" r="2.35"/>
<circle cx="223.0" cy="400.4" r="2.35"/>
<circle cx="205.9" cy="380.8" r="2.35"/>
<circle cx="210.8" cy="371.1" r="2.35"/>
<circle cx="176.6" cy="432.1" r="2.35"/>
<circle cx="174.2" cy="412.6" r="2.35"/>
<circle cx="154.7" cy="454.0" r="2.35"/>
<circle cx="220.5" cy="417.4" r="2.35"/>
<circle cx="196.1" cy="402.8" r="2.35"/>
<circle cx="193.7" cy="424.8" r="2.35"/>
<circle cx="181.5" cy="437.0" r="2.35"/>
<circle cx="164.4" cy="456.5" r="2.35"/>
<circle cx="164.4" cy="451.6" r="2.35"/>
<circle cx="149.8" cy="490.6" r="2.35"/>
<circle cx="176.6" cy="439.4" r="2.35"/>
<circle cx="157.1" cy="456.5" r="2.35"/>
<circle cx="171.7" cy="461.4" r="2.35"/>
<circle cx="164.4" cy="468.7" r="2.35"/>
<circle cx="142.5" cy="478.4" r="2.35"/>
<circle cx="213.2" cy="383.3" r="2.35"/>
<circle cx="205.9" cy="373.5" r="2.35"/>
<circle cx="171.7" cy="432.1" r="2.35"/>
<circle cx="142.5" cy="466.2" r="2.35"/>
<circle cx="159.5" cy="446.7" r="2.35"/>
<circle cx="176.6" cy="419.9" r="2.35"/>
<circle cx="215.7" cy="410.1" r="2.35"/>
<circle cx="196.1" cy="412.6" r="2.35"/>
<circle cx="196.1" cy="419.9" r="2.35"/>
<circle cx="174.2" cy="451.6" r="2.35"/>
<circle cx="225.4" cy="402.8" r="2.35"/>
<circle cx="164.4" cy="473.6" r="2.35"/>
<circle cx="169.3" cy="461.4" r="2.35"/>
<circle cx="203.5" cy="444.3" r="2.35"/>
<circle cx="203.5" cy="405.2" r="2.35"/>
<circle cx="201.0" cy="422.3" r="2.35"/>
<circle cx="201.0" cy="419.9" r="2.35"/>
<circle cx="169.3" cy="449.2" r="2.35"/>
<circle cx="210.8" cy="395.5" r="2.35"/>
<circle cx="142.5" cy="495.5" r="2.35"/>
<circle cx="169.3" cy="458.9" r="2.35"/>
<circle cx="166.9" cy="488.2" r="2.35"/>
<circle cx="196.1" cy="393.0" r="2.35"/>
<circle cx="181.5" cy="434.5" r="2.35"/>
<circle cx="198.6" cy="432.1" r="2.35"/>
<circle cx="201.0" cy="380.8" r="2.35"/>
<circle cx="215.7" cy="385.7" r="2.35"/>
<circle cx="191.3" cy="419.9" r="2.35"/>
<circle cx="162.0" cy="456.5" r="2.35"/>
<circle cx="162.0" cy="473.6" r="2.35"/>
<circle cx="240.1" cy="402.8" r="2.35"/>
<circle cx="181.5" cy="466.2" r="2.35"/>
<circle cx="210.8" cy="422.3" r="2.35"/>
<circle cx="174.2" cy="449.2" r="2.35"/>
<circle cx="186.4" cy="451.6" r="2.35"/>
<circle cx="154.7" cy="468.7" r="2.35"/>
<circle cx="183.9" cy="444.3" r="2.35"/>
<circle cx="157.1" cy="478.4" r="2.35"/>
<circle cx="210.8" cy="437.0" r="2.35"/>
<circle cx="201.0" cy="446.7" r="2.35"/>
<circle cx="227.9" cy="405.2" r="2.35"/>
<circle cx="176.6" cy="444.3" r="2.35"/>
<circle cx="201.0" cy="378.4" r="2.35"/>
<circle cx="213.2" cy="383.3" r="2.35"/>
<circle cx="208.3" cy="371.1" r="2.35"/>
<circle cx="205.9" cy="407.7" r="2.35"/>
<circle cx="201.0" cy="424.8" r="2.35"/>
<circle cx="208.3" cy="441.8" r="2.35"/>
<circle cx="171.7" cy="451.6" r="2.35"/>
<circle cx="186.4" cy="441.8" r="2.35"/>
<circle cx="152.2" cy="468.7" r="2.35"/>
<circle cx="166.9" cy="434.5" r="2.35"/>
<circle cx="196.1" cy="432.1" r="2.35"/>
<circle cx="174.2" cy="478.4" r="2.35"/>
<circle cx="213.2" cy="417.4" r="2.35"/>
<circle cx="171.7" cy="461.4" r="2.35"/>
<circle cx="183.9" cy="412.6" r="2.35"/>
<circle cx="142.5" cy="500.4" r="2.35"/>
<circle cx="205.9" cy="419.9" r="2.35"/>
<circle cx="154.7" cy="473.6" r="2.35"/>
<circle cx="198.6" cy="429.6" r="2.35"/>
<circle cx="210.8" cy="405.2" r="2.35"/>
<circle cx="181.5" cy="434.5" r="2.35"/>
<circle cx="183.9" cy="432.1" r="2.35"/>
<circle cx="203.5" cy="444.3" r="2.35"/>
<circle cx="181.5" cy="446.7" r="2.35"/>
<circle cx="179.1" cy="478.4" r="2.35"/>
<circle cx="176.6" cy="429.6" r="2.35"/>
<circle cx="193.7" cy="449.2" r="2.35"/>
<circle cx="205.9" cy="424.8" r="2.35"/>
<circle cx="193.7" cy="449.2" r="2.35"/>
<circle cx="213.2" cy="441.8" r="2.35"/>
<circle cx="169.3" cy="419.9" r="2.35"/>
<circle cx="162.0" cy="461.4" r="2.35"/>
<circle cx="159.5" cy="463.8" r="2.35"/>
<circle cx="159.5" cy="427.2" r="2.35"/>
<circle cx="218.1" cy="402.8" r="2.35"/>
<circle cx="154.7" cy="463.8" r="2.35"/>
<circle cx="152.2" cy="473.6" r="2.35"/>
<circle cx="171.7" cy="427.2" r="2.35"/>
<circle cx="164.4" cy="451.6" r="2.35"/>
<circle cx="164.4" cy="456.5" r="2.35"/>
<circle cx="181.5" cy="437.0" r="2.35"/>
<circle cx="191.3" cy="407.7" r="2.35"/>
<circle cx="210.8" cy="412.6" r="2.35"/>
<circle cx="186.4" cy="444.3" r="2.35"/>
<circle cx="183.9" cy="446.7" r="2.35"/>
<circle cx="176.6" cy="434.5" r="2.35"/>
<circle cx="235.2" cy="397.9" r="2.35"/>
<circle cx="169.3" cy="461.4" r="2.35"/>
<circle cx="240.1" cy="385.7" r="2.35"/>
<circle cx="171.7" cy="483.3" r="2.35"/>
<circle cx="176.6" cy="454.0" r="2.35"/>
<circle cx="205.9" cy="454.0" r="2.35"/>
<circle cx="164.4" cy="478.4" r="2.35"/>
<circle cx="171.7" cy="458.9" r="2.35"/>
<circle cx="205.9" cy="412.6" r="2.35"/>
<circle cx="176.6" cy="446.7" r="2.35"/>
<circle cx="166.9" cy="461.4" r="2.35"/>
<circle cx="186.4" cy="393.0" r="2.35"/>
<circle cx="183.9" cy="432.1" r="2.35"/>
<circle cx="213.2" cy="429.6" r="2.35"/>
<circle cx="240.1" cy="390.6" r="2.35"/>
<circle cx="191.3" cy="446.7" r="2.35"/>
<circle cx="196.1" cy="429.6" r="2.35"/>
<circle cx="147.3" cy="498.0" r="2.35"/>
<circle cx="174.2" cy="415.0" r="2.35"/>
<circle cx="164.4" cy="461.4" r="2.35"/>
<circle cx="201.0" cy="427.2" r="2.35"/>
<circle cx="164.4" cy="463.8" r="2.35"/>
<circle cx="174.2" cy="454.0" r="2.35"/>
<circle cx="140.0" cy="461.4" r="2.35"/>
<circle cx="203.5" cy="407.7" r="2.35"/>
<circle cx="174.2" cy="427.2" r="2.35"/>
<circle cx="154.7" cy="463.8" r="2.35"/>
<circle cx="213.2" cy="385.7" r="2.35"/>
<circle cx="218.1" cy="400.4" r="2.35"/>
<circle cx="210.8" cy="441.8" r="2.35"/>
<circle cx="164.4" cy="449.2" r="2.35"/>
<circle cx="193.7" cy="441.8" r="2.35"/>
<circle cx="237.6" cy="390.6" r="2.35"/>
<circle cx="142.5" cy="463.8" r="2.35"/>
<circle cx="157.1" cy="444.3" r="2.35"/>
<circle cx="205.9" cy="400.4" r="2.35"/>
<circle cx="183.9" cy="461.4" r="2.35"/>
<circle cx="201.0" cy="444.3" r="2.35"/>
<circle cx="166.9" cy="458.9" r="2.35"/>
<circle cx="183.9" cy="466.2" r="2.35"/>
<circle cx="208.3" cy="402.8" r="2.35"/>
<circle cx="193.7" cy="410.1" r="2.35"/>
<circle cx="186.4" cy="437.0" r="2.35"/>
<circle cx="162.0" cy="463.8" r="2.35"/>
<circle cx="152.2" cy="473.6" r="2.35"/>
<circle cx="159.5" cy="446.7" r="2.35"/>
<circle cx="169.3" cy="439.4" r="2.35"/>
<circle cx="159.5" cy="473.6" r="2.35"/>
<circle cx="144.9" cy="480.9" r="2.35"/>
<circle cx="183.9" cy="432.1" r="2.35"/>
<circle cx="147.3" cy="451.6" r="2.35"/>
<circle cx="181.5" cy="451.6" r="2.35"/>
<circle cx="166.9" cy="468.7" r="2.35"/>
<circle cx="220.5" cy="395.5" r="2.35"/>
<circle cx="203.5" cy="417.4" r="2.35"/>
<circle cx="132.7" cy="485.8" r="2.35"/>
<circle cx="179.1" cy="437.0" r="2.35"/>
<circle cx="171.7" cy="441.8" r="2.35"/>
<circle cx="203.5" cy="412.6" r="2.35"/>
<circle cx="186.4" cy="439.4" r="2.35"/>
<circle cx="198.6" cy="412.6" r="2.35"/>
<circle cx="205.9" cy="449.2" r="2.35"/>
<circle cx="152.2" cy="451.6" r="2.35"/>
<circle cx="164.4" cy="485.8" r="2.35"/>
<circle cx="210.8" cy="393.0" r="2.35"/>
<circle cx="166.9" cy="458.9" r="2.35"/>
<circle cx="191.3" cy="410.1" r="2.35"/>
<circle cx="196.1" cy="427.2" r="2.35"/>
<circle cx="179.1" cy="461.4" r="2.35"/>
<circle cx="140.0" cy="468.7" r="2.35"/>
<circle cx="191.3" cy="429.6" r="2.35"/>
<circle cx="223.0" cy="390.6" r="2.35"/>
<circle cx="142.5" cy="466.2" r="2.35"/>
<circle cx="186.4" cy="429.6" r="2.35"/>
<circle cx="213.2" cy="439.4" r="2.35"/>
<circle cx="235.2" cy="390.6" r="2.35"/>
<circle cx="179.1" cy="410.1" r="2.35"/>
<circle cx="205.9" cy="407.7" r="2.35"/>
<circle cx="169.3" cy="458.9" r="2.35"/>
<circle cx="174.2" cy="427.2" r="2.35"/>
<circle cx="157.1" cy="473.6" r="2.35"/>
<circle cx="205.9" cy="415.0" r="2.35"/>
<circle cx="198.6" cy="417.4" r="2.35"/>
<circle cx="215.7" cy="432.1" r="2.35"/>
<circle cx="196.1" cy="407.7" r="2.35"/>
<circle cx="137.6" cy="480.9" r="2.35"/>
<circle cx="181.5" cy="446.7" r="2.35"/>
<circle cx="171.7" cy="473.6" r="2.35"/>
<circle cx="174.2" cy="446.7" r="2.35"/>
<circle cx="188.8" cy="405.2" r="2.35"/>
<circle cx="191.3" cy="454.0" r="2.35"/>
<circle cx="162.0" cy="456.5" r="2.35"/>
<circle cx="183.9" cy="449.2" r="2.35"/>
<circle cx="198.6" cy="437.0" r="2.35"/>
<circle cx="208.3" cy="415.0" r="2.35"/>
<circle cx="152.2" cy="483.3" r="2.35"/>
<circle cx="144.9" cy="478.4" r="2.35"/>
<circle cx="169.3" cy="461.4" r="2.35"/>
<circle cx="174.2" cy="458.9" r="2.35"/>
<circle cx="240.1" cy="388.2" r="2.35"/>
<circle cx="171.7" cy="441.8" r="2.35"/>
<circle cx="205.9" cy="395.5" r="2.35"/>
<circle cx="149.8" cy="458.9" r="2.35"/>
<circle cx="144.9" cy="468.7" r="2.35"/>
<circle cx="227.9" cy="410.1" r="2.35"/>
<circle cx="162.0" cy="471.1" r="2.35"/>
<circle cx="179.1" cy="441.8" r="2.35"/>
<circle cx="183.9" cy="407.7" r="2.35"/>
<circle cx="169.3" cy="451.6" r="2.35"/>
<circle cx="220.5" cy="410.1" r="2.35"/>
<circle cx="198.6" cy="419.9" r="2.35"/>
<circle cx="142.5" cy="490.6" r="2.35"/>
<circle cx="215.7" cy="393.0" r="2.35"/>
<circle cx="188.8" cy="444.3" r="2.35"/>
<circle cx="183.9" cy="466.2" r="2.35"/>
<circle cx="171.7" cy="466.2" r="2.35"/>
<circle cx="142.5" cy="485.8" r="2.35"/>
<circle cx="198.6" cy="441.8" r="2.35"/>
<circle cx="157.1" cy="446.7" r="2.35"/>
<circle cx="166.9" cy="480.9" r="2.35"/>
<circle cx="149.8" cy="444.3" r="2.35"/>
<circle cx="176.6" cy="466.2" r="2.35"/>
<circle cx="220.5" cy="395.5" r="2.35"/>
<circle cx="191.3" cy="437.0" r="2.35"/>
<circle cx="223.0" cy="422.3" r="2.35"/>
<circle cx="159.5" cy="466.2" r="2.35"/>
<circle cx="157.1" cy="427.2" r="2.35"/>
<circle cx="203.5" cy="446.7" r="2.35"/>
<circle cx="154.7" cy="458.9" r="2.35"/>
<circle cx="162.0" cy="463.8" r="2.35"/>
<circle cx="230.3" cy="395.5" r="2.35"/>
<circle cx="188.8" cy="441.8" r="2.35"/>
<circle cx="149.8" cy="456.5" r="2.35"/>
<circle cx="183.9" cy="427.2" r="2.35"/>
<circle cx="169.3" cy="476.0" r="2.35"/>
<circle cx="164.4" cy="429.6" r="2.35"/>
<circle cx="198.6" cy="446.7" r="2.35"/>
<circle cx="183.9" cy="424.8" r="2.35"/>
<circle cx="166.9" cy="454.0" r="2.35"/>
<circle cx="198.6" cy="397.9" r="2.35"/>
<circle cx="227.9" cy="383.3" r="2.35"/>
<circle cx="166.9" cy="439.4" r="2.35"/>
<circle cx="191.3" cy="429.6" r="2.35"/>
<circle cx="162.0" cy="441.8" r="2.35"/>
<circle cx="188.8" cy="427.2" r="2.35"/>
<circle cx="176.6" cy="458.9" r="2.35"/>
<circle cx="157.1" cy="446.7" r="2.35"/>
<circle cx="176.6" cy="439.4" r="2.35"/>
<circle cx="174.2" cy="444.3" r="2.35"/>
<circle cx="198.6" cy="434.5" r="2.35"/>
<circle cx="183.9" cy="429.6" r="2.35"/>
<circle cx="154.7" cy="498.0" r="2.35"/>
<circle cx="237.6" cy="407.7" r="2.35"/>
<circle cx="169.3" cy="441.8" r="2.35"/>
<circle cx="196.1" cy="454.0" r="2.35"/>
<circle cx="157.1" cy="439.4" r="2.35"/>
<circle cx="227.9" cy="393.0" r="2.35"/>
<circle cx="215.7" cy="397.9" r="2.35"/>
<circle cx="188.8" cy="432.1" r="2.35"/>
<circle cx="196.1" cy="415.0" r="2.35"/>
<circle cx="196.1" cy="429.6" r="2.35"/>
<circle cx="169.3" cy="461.4" r="2.35"/>
<circle cx="179.1" cy="444.3" r="2.35"/>
<circle cx="191.3" cy="405.2" r="2.35"/>
<circle cx="201.0" cy="412.6" r="2.35"/>
<circle cx="152.2" cy="476.0" r="2.35"/>
<circle cx="215.7" cy="437.0" r="2.35"/>
<circle cx="174.2" cy="437.0" r="2.35"/>
<circle cx="144.9" cy="468.7" r="2.35"/>
<circle cx="154.7" cy="478.4" r="2.35"/>
<circle cx="215.7" cy="383.3" r="2.35"/>
<circle cx="201.0" cy="390.6" r="2.35"/>
<circle cx="162.0" cy="458.9" r="2.35"/>
<circle cx="164.4" cy="437.0" r="2.35"/>
<circle cx="179.1" cy="439.4" r="2.35"/>
<circle cx="223.0" cy="432.1" r="2.35"/>
<circle cx="196.1" cy="432.1" r="2.35"/>
<circle cx="240.1" cy="383.3" r="2.35"/>
<circle cx="169.3" cy="444.3" r="2.35"/>
<circle cx="215.7" cy="412.6" r="2.35"/>
<circle cx="201.0" cy="439.4" r="2.35"/>
<circle cx="188.8" cy="432.1" r="2.35"/>
<circle cx="203.5" cy="417.4" r="2.35"/>
<circle cx="205.9" cy="395.5" r="2.35"/>
<circle cx="169.3" cy="437.0" r="2.35"/>
<circle cx="171.7" cy="446.7" r="2.35"/>
<circle cx="176.6" cy="441.8" r="2.35"/>
<circle cx="174.2" cy="446.7" r="2.35"/>
<circle cx="215.7" cy="402.8" r="2.35"/>
<circle cx="193.7" cy="397.9" r="2.35"/>
<circle cx="174.2" cy="454.0" r="2.35"/>
<circle cx="154.7" cy="466.2" r="2.35"/>
<circle cx="169.3" cy="432.1" r="2.35"/>
<circle cx="183.9" cy="458.9" r="2.35"/>
<circle cx="162.0" cy="454.0" r="2.35"/>
<circle cx="196.1" cy="405.2" r="2.35"/>
<circle cx="179.1" cy="454.0" r="2.35"/>
<circle cx="210.8" cy="449.2" r="2.35"/>
<circle cx="181.5" cy="446.7" r="2.35"/>
<circle cx="218.1" cy="427.2" r="2.35"/>
<circle cx="196.1" cy="410.1" r="2.35"/>
<circle cx="186.4" cy="454.0" r="2.35"/>
<circle cx="181.5" cy="405.2" r="2.35"/>
<circle cx="188.8" cy="429.6" r="2.35"/>
<circle cx="171.7" cy="463.8" r="2.35"/>
<circle cx="201.0" cy="439.4" r="2.35"/>
<circle cx="181.5" cy="434.5" r="2.35"/>
<circle cx="166.9" cy="429.6" r="2.35"/>
<circle cx="186.4" cy="417.4" r="2.35"/>
<circle cx="230.3" cy="407.7" r="2.35"/>
<circle cx="220.5" cy="393.0" r="2.35"/>
<circle cx="210.8" cy="439.4" r="2.35"/>
<circle cx="154.7" cy="446.7" r="2.35"/>
<circle cx="157.1" cy="444.3" r="2.35"/>
<circle cx="205.9" cy="451.6" r="2.35"/>
<circle cx="159.5" cy="493.1" r="2.35"/>
<circle cx="225.4" cy="415.0" r="2.35"/>
<circle cx="159.5" cy="473.6" r="2.35"/>
<circle cx="201.0" cy="422.3" r="2.35"/>
<circle cx="210.8" cy="395.5" r="2.35"/>
<circle cx="169.3" cy="451.6" r="2.35"/>
<circle cx="164.4" cy="456.5" r="2.35"/>
<circle cx="154.7" cy="478.4" r="2.35"/>
<circle cx="193.7" cy="405.2" r="2.35"/>
<circle cx="191.3" cy="444.3" r="2.35"/>
<circle cx="181.5" cy="405.2" r="2.35"/>
<circle cx="169.3" cy="461.4" r="2.35"/>
<circle cx="196.1" cy="441.8" r="2.35"/>
<circle cx="210.8" cy="395.5" r="2.35"/>
<circle cx="181.5" cy="429.6" r="2.35"/>
<circle cx="220.5" cy="390.6" r="2.35"/>
<circle cx="203.5" cy="441.8" r="2.35"/>
<circle cx="210.8" cy="424.8" r="2.35"/>
<circle cx="208.3" cy="393.0" r="2.35"/>
<circle cx="223.0" cy="412.6" r="2.35"/>
<circle cx="225.4" cy="385.7" r="2.35"/>
<circle cx="142.5" cy="490.6" r="2.35"/>
<circle cx="171.7" cy="415.0" r="2.35"/>
<circle cx="181.5" cy="441.8" r="2.35"/>
<circle cx="201.0" cy="439.4" r="2.35"/>
<circle cx="210.8" cy="424.8" r="2.35"/>
<circle cx="135.1" cy="490.6" r="2.35"/>
<circle cx="166.9" cy="437.0" r="2.35"/>
<circle cx="137.6" cy="488.2" r="2.35"/>
<circle cx="225.4" cy="390.6" r="2.35"/>
<circle cx="181.5" cy="441.8" r="2.35"/>
<circle cx="201.0" cy="415.0" r="2.35"/>
<circle cx="201.0" cy="402.8" r="2.35"/>
<circle cx="137.6" cy="476.0" r="2.35"/>
<circle cx="181.5" cy="451.6" r="2.35"/>
<circle cx="159.5" cy="480.9" r="2.35"/>
<circle cx="169.3" cy="449.2" r="2.35"/>
<circle cx="205.9" cy="422.3" r="2.35"/>
<circle cx="154.7" cy="463.8" r="2.35"/>
<circle cx="166.9" cy="468.7" r="2.35"/>
<circle cx="210.8" cy="429.6" r="2.35"/>
<circle cx="137.6" cy="456.5" r="2.35"/>
<circle cx="154.7" cy="446.7" r="2.35"/>
<circle cx="186.4" cy="441.8" r="2.35"/>
<circle cx="203.5" cy="388.2" r="2.35"/>
<circle cx="159.5" cy="441.8" r="2.35"/>
<circle cx="188.8" cy="456.5" r="2.35"/>
<circle cx="183.9" cy="458.9" r="2.35"/>
<circle cx="181.5" cy="446.7" r="2.35"/>
<circle cx="210.8" cy="434.5" r="2.35"/>
<circle cx="196.1" cy="427.2" r="2.35"/>
<circle cx="183.9" cy="417.4" r="2.35"/>
<circle cx="227.9" cy="383.3" r="2.35"/>
<circle cx="181.5" cy="449.2" r="2.35"/>
<circle cx="203.5" cy="383.3" r="2.35"/>
<circle cx="220.5" cy="415.0" r="2.35"/>
<circle cx="220.5" cy="405.2" r="2.35"/>
<circle cx="174.2" cy="444.3" r="2.35"/>
<circle cx="198.6" cy="422.3" r="2.35"/>
<circle cx="196.1" cy="422.3" r="2.35"/>
<circle cx="166.9" cy="461.4" r="2.35"/>
<circle cx="183.9" cy="456.5" r="2.35"/>
<circle cx="164.4" cy="473.6" r="2.35"/>
<circle cx="147.3" cy="473.6" r="2.35"/>
<circle cx="205.9" cy="415.0" r="2.35"/>
<circle cx="166.9" cy="480.9" r="2.35"/>
<circle cx="198.6" cy="439.4" r="2.35"/>
<circle cx="174.2" cy="461.4" r="2.35"/>
<circle cx="220.5" cy="400.4" r="2.35"/>
<circle cx="196.1" cy="419.9" r="2.35"/>
<circle cx="198.6" cy="419.9" r="2.35"/>
<circle cx="220.5" cy="412.6" r="2.35"/>
<circle cx="191.3" cy="432.1" r="2.35"/>
<circle cx="171.7" cy="480.9" r="2.35"/>
<circle cx="198.6" cy="422.3" r="2.35"/>
<circle cx="201.0" cy="454.0" r="2.35"/>
<circle cx="203.5" cy="434.5" r="2.35"/>
<circle cx="166.9" cy="480.9" r="2.35"/>
<circle cx="188.8" cy="422.3" r="2.35"/>
<circle cx="162.0" cy="458.9" r="2.35"/>
<circle cx="169.3" cy="466.2" r="2.35"/>
<circle cx="225.4" cy="427.2" r="2.35"/>
<circle cx="223.0" cy="385.7" r="2.35"/>
<circle cx="144.9" cy="466.2" r="2.35"/>
<circle cx="191.3" cy="424.8" r="2.35"/>
<circle cx="166.9" cy="454.0" r="2.35"/>
<circle cx="208.3" cy="412.6" r="2.35"/>
<circle cx="198.6" cy="422.3" r="2.35"/>
<circle cx="205.9" cy="422.3" r="2.35"/>
<circle cx="164.4" cy="476.0" r="2.35"/>
<circle cx="201.0" cy="458.9" r="2.35"/>
<circle cx="215.7" cy="397.9" r="2.35"/>
<circle cx="144.9" cy="476.0" r="2.35"/>
<circle cx="157.1" cy="468.7" r="2.35"/>
<circle cx="213.2" cy="424.8" r="2.35"/>
<circle cx="215.7" cy="410.1" r="2.35"/>
<circle cx="174.2" cy="458.9" r="2.35"/>
<circle cx="220.5" cy="419.9" r="2.35"/>
<circle cx="171.7" cy="456.5" r="2.35"/>
<circle cx="176.6" cy="456.5" r="2.35"/>
<circle cx="174.2" cy="461.4" r="2.35"/>
<circle cx="154.7" cy="458.9" r="2.35"/>
<circle cx="162.0" cy="483.3" r="2.35"/>
<circle cx="183.9" cy="429.6" r="2.35"/>
<circle cx="227.9" cy="402.8" r="2.35"/>
<circle cx="203.5" cy="407.7" r="2.35"/>
<circle cx="179.1" cy="441.8" r="2.35"/>
<circle cx="208.3" cy="432.1" r="2.35"/>
<circle cx="174.2" cy="466.2" r="2.35"/>
<circle cx="198.6" cy="441.8" r="2.35"/>
<circle cx="218.1" cy="400.4" r="2.35"/>
<circle cx="188.8" cy="419.9" r="2.35"/>
<circle cx="154.7" cy="451.6" r="2.35"/>
<circle cx="166.9" cy="471.1" r="2.35"/>
<circle cx="171.7" cy="454.0" r="2.35"/>
<circle cx="174.2" cy="483.3" r="2.35"/>
<circle cx="201.0" cy="439.4" r="2.35"/>
<circle cx="162.0" cy="478.4" r="2.35"/>
<circle cx="179.1" cy="473.6" r="2.35"/>
<circle cx="215.7" cy="439.4" r="2.35"/>
<circle cx="140.0" cy="478.4" r="2.35"/>
<circle cx="213.2" cy="424.8" r="2.35"/>
<circle cx="176.6" cy="480.9" r="2.35"/>
<circle cx="176.6" cy="446.7" r="2.35"/>
<circle cx="176.6" cy="456.5" r="2.35"/>
<circle cx="171.7" cy="439.4" r="2.35"/>
<circle cx="174.2" cy="419.9" r="2.35"/>
<circle cx="186.4" cy="463.8" r="2.35"/>
<circle cx="198.6" cy="424.8" r="2.35"/>
<circle cx="201.0" cy="434.5" r="2.35"/>
<circle cx="147.3" cy="451.6" r="2.35"/>
<circle cx="176.6" cy="463.8" r="2.35"/>
<circle cx="152.2" cy="468.7" r="2.35"/>
<circle cx="179.1" cy="434.5" r="2.35"/>
<circle cx="159.5" cy="446.7" r="2.35"/>
<circle cx="176.6" cy="439.4" r="2.35"/>
<circle cx="169.3" cy="415.0" r="2.35"/>
<circle cx="174.2" cy="461.4" r="2.35"/>
<circle cx="232.7" cy="380.8" r="2.35"/>
<circle cx="157.1" cy="451.6" r="2.35"/>
<circle cx="193.7" cy="434.5" r="2.35"/>
<circle cx="183.9" cy="446.7" r="2.35"/>
<circle cx="193.7" cy="439.4" r="2.35"/>
<circle cx="237.6" cy="395.5" r="2.35"/>
<circle cx="169.3" cy="476.0" r="2.35"/>
<circle cx="215.7" cy="417.4" r="2.35"/>
<circle cx="174.2" cy="480.9" r="2.35"/>
<circle cx="198.6" cy="415.0" r="2.35"/>
<circle cx="169.3" cy="485.8" r="2.35"/>
<circle cx="159.5" cy="424.8" r="2.35"/>
<circle cx="152.2" cy="441.8" r="2.35"/>
<circle cx="164.4" cy="441.8" r="2.35"/>
<circle cx="218.1" cy="407.7" r="2.35"/>
<circle cx="225.4" cy="405.2" r="2.35"/>
<circle cx="174.2" cy="427.2" r="2.35"/>
<circle cx="166.9" cy="454.0" r="2.35"/>
<circle cx="208.3" cy="400.4" r="2.35"/>
<circle cx="164.4" cy="476.0" r="2.35"/>
<circle cx="142.5" cy="466.2" r="2.35"/>
<circle cx="191.3" cy="449.2" r="2.35"/>
<circle cx="181.5" cy="439.4" r="2.35"/>
<circle cx="208.3" cy="446.7" r="2.35"/>
<circle cx="191.3" cy="444.3" r="2.35"/>
<circle cx="169.3" cy="466.2" r="2.35"/>
<circle cx="179.1" cy="454.0" r="2.35"/>
<circle cx="162.0" cy="451.6" r="2.35"/>
<circle cx="218.1" cy="405.2" r="2.35"/>
<circle cx="154.7" cy="449.2" r="2.35"/>
<circle cx="176.6" cy="439.4" r="2.35"/>
<circle cx="166.9" cy="451.6" r="2.35"/>
<circle cx="210.8" cy="444.3" r="2.35"/>
<circle cx="152.2" cy="498.0" r="2.35"/>
<circle cx="203.5" cy="402.8" r="2.35"/>
<circle cx="203.5" cy="439.4" r="2.35"/>
<circle cx="181.5" cy="454.0" r="2.35"/>
<circle cx="164.4" cy="451.6" r="2.35"/>
<circle cx="201.0" cy="427.2" r="2.35"/>
<circle cx="174.2" cy="441.8" r="2.35"/>
<circle cx="205.9" cy="434.5" r="2.35"/>
<circle cx="179.1" cy="427.2" r="2.35"/>
<circle cx="218.1" cy="395.5" r="2.35"/>
<circle cx="164.4" cy="449.2" r="2.35"/>
<circle cx="227.9" cy="390.6" r="2.35"/>
<circle cx="218.1" cy="422.3" r="2.35"/>
<circle cx="149.8" cy="451.6" r="2.35"/>
<circle cx="223.0" cy="412.6" r="2.35"/>
<circle cx="193.7" cy="395.5" r="2.35"/>
<circle cx="176.6" cy="451.6" r="2.35"/>
<circle cx="198.6" cy="451.6" r="2.35"/>
<circle cx="198.6" cy="422.3" r="2.35"/>
<circle cx="164.4" cy="456.5" r="2.35"/>
<circle cx="142.5" cy="476.0" r="2.35"/>
<circle cx="176.6" cy="466.2" r="2.35"/>
<circle cx="174.2" cy="437.0" r="2.35"/>
<circle cx="166.9" cy="466.2" r="2.35"/>
<circle cx="166.9" cy="476.0" r="2.35"/>
<circle cx="230.3" cy="410.1" r="2.35"/>
<circle cx="171.7" cy="441.8" r="2.35"/>
<circle cx="147.3" cy="466.2" r="2.35"/>
<circle cx="205.9" cy="432.1" r="2.35"/>
<circle cx="198.6" cy="451.6" r="2.35"/>
<circle cx="159.5" cy="446.7" r="2.35"/>
<circle cx="166.9" cy="456.5" r="2.35"/>
<circle cx="193.7" cy="444.3" r="2.35"/>
<circle cx="157.1" cy="468.7" r="2.35"/>
<circle cx="220.5" cy="405.2" r="2.35"/>
<circle cx="218.1" cy="373.5" r="2.35"/>
<circle cx="188.8" cy="439.4" r="2.35"/>
<circle cx="208.3" cy="393.0" r="2.35"/>
<circle cx="159.5" cy="446.7" r="2.35"/>
<circle cx="203.5" cy="432.1" r="2.35"/>
<circle cx="235.2" cy="400.4" r="2.35"/>
<circle cx="164.4" cy="429.6" r="2.35"/>
<circle cx="144.9" cy="490.6" r="2.35"/>
<circle cx="157.1" cy="471.1" r="2.35"/>
<circle cx="169.3" cy="461.4" r="2.35"/>
<circle cx="186.4" cy="439.4" r="2.35"/>
<circle cx="152.2" cy="485.8" r="2.35"/>
<circle cx="144.9" cy="471.1" r="2.35"/>
<circle cx="186.4" cy="412.6" r="2.35"/>
<circle cx="220.5" cy="429.6" r="2.35"/>
<circle cx="181.5" cy="441.8" r="2.35"/>
<circle cx="230.3" cy="405.2" r="2.35"/>
<circle cx="208.3" cy="390.6" r="2.35"/>
<circle cx="162.0" cy="485.8" r="2.35"/>
<circle cx="171.7" cy="441.8" r="2.35"/>
<circle cx="203.5" cy="434.5" r="2.35"/>
<circle cx="166.9" cy="429.6" r="2.35"/>
<circle cx="198.6" cy="407.7" r="2.35"/>
<circle cx="191.3" cy="458.9" r="2.35"/>
<circle cx="171.7" cy="485.8" r="2.35"/>
<circle cx="176.6" cy="432.1" r="2.35"/>
<circle cx="152.2" cy="476.0" r="2.35"/>
<circle cx="144.9" cy="478.4" r="2.35"/>
<circle cx="213.2" cy="422.3" r="2.35"/>
<circle cx="159.5" cy="454.0" r="2.35"/>
<circle cx="176.6" cy="461.4" r="2.35"/>
<circle cx="220.5" cy="422.3" r="2.35"/>
<circle cx="198.6" cy="449.2" r="2.35"/>
<circle cx="188.8" cy="432.1" r="2.35"/>
<circle cx="159.5" cy="480.9" r="2.35"/>
<circle cx="205.9" cy="402.8" r="2.35"/>
<circle cx="181.5" cy="449.2" r="2.35"/>
<circle cx="164.4" cy="441.8" r="2.35"/>
<circle cx="240.1" cy="388.2" r="2.35"/>
<circle cx="223.0" cy="410.1" r="2.35"/>
<circle cx="205.9" cy="454.0" r="2.35"/>
<circle cx="223.0" cy="422.3" r="2.35"/>
<circle cx="149.8" cy="463.8" r="2.35"/>
<circle cx="205.9" cy="444.3" r="2.35"/>
<circle cx="183.9" cy="458.9" r="2.35"/>
<circle cx="166.9" cy="454.0" r="2.35"/>
<circle cx="179.1" cy="437.0" r="2.35"/>
<circle cx="164.4" cy="476.0" r="2.35"/>
<circle cx="183.9" cy="441.8" r="2.35"/>
<circle cx="205.9" cy="422.3" r="2.35"/>
<circle cx="186.4" cy="419.9" r="2.35"/>
<circle cx="157.1" cy="439.4" r="2.35"/>
<circle cx="191.3" cy="437.0" r="2.35"/>
<circle cx="157.1" cy="463.8" r="2.35"/>
<circle cx="198.6" cy="441.8" r="2.35"/>
<circle cx="203.5" cy="410.1" r="2.35"/>
<circle cx="191.3" cy="412.6" r="2.35"/>
<circle cx="198.6" cy="437.0" r="2.35"/>
<circle cx="227.9" cy="419.9" r="2.35"/>
<circle cx="166.9" cy="451.6" r="2.35"/>
<circle cx="166.9" cy="451.6" r="2.35"/>
<circle cx="154.7" cy="456.5" r="2.35"/>
<circle cx="201.0" cy="422.3" r="2.35"/>
<circle cx="193.7" cy="441.8" r="2.35"/>
<circle cx="188.8" cy="441.8" r="2.35"/>
<circle cx="230.3" cy="410.1" r="2.35"/>
<circle cx="183.9" cy="461.4" r="2.35"/>
<circle cx="188.8" cy="446.7" r="2.35"/>
<circle cx="208.3" cy="424.8" r="2.35"/>
<circle cx="210.8" cy="410.1" r="2.35"/>
<circle cx="196.1" cy="437.0" r="2.35"/>
<circle cx="193.7" cy="397.9" r="2.35"/>
<circle cx="154.7" cy="466.2" r="2.35"/>
<circle cx="213.2" cy="415.0" r="2.35"/>
<circle cx="213.2" cy="393.0" r="2.35"/>
<circle cx="186.4" cy="437.0" r="2.35"/>
<circle cx="157.1" cy="478.4" r="2.35"/>
<circle cx="196.1" cy="397.9" r="2.35"/>
<circle cx="169.3" cy="444.3" r="2.35"/>
<circle cx="171.7" cy="419.9" r="2.35"/>
<circle cx="157.1" cy="446.7" r="2.35"/>
<circle cx="188.8" cy="422.3" r="2.35"/>
<circle cx="154.7" cy="473.6" r="2.35"/>
<circle cx="191.3" cy="456.5" r="2.35"/>
<circle cx="203.5" cy="402.8" r="2.35"/>
<circle cx="181.5" cy="444.3" r="2.35"/>
<circle cx="171.7" cy="439.4" r="2.35"/>
<circle cx="232.7" cy="388.2" r="2.35"/>
<circle cx="193.7" cy="451.6" r="2.35"/>
<circle cx="174.2" cy="437.0" r="2.35"/>
<circle cx="152.2" cy="454.0" r="2.35"/>
<circle cx="201.0" cy="427.2" r="2.35"/>
<circle cx="215.7" cy="395.5" r="2.35"/>
<circle cx="183.9" cy="412.6" r="2.35"/>
<circle cx="183.9" cy="456.5" r="2.35"/>
<circle cx="208.3" cy="419.9" r="2.35"/>
<circle cx="201.0" cy="446.7" r="2.35"/>
<circle cx="166.9" cy="434.5" r="2.35"/>
<circle cx="159.5" cy="463.8" r="2.35"/>
<circle cx="205.9" cy="424.8" r="2.35"/>
<circle cx="205.9" cy="451.6" r="2.35"/>
<circle cx="235.2" cy="388.2" r="2.35"/>
<circle cx="162.0" cy="446.7" r="2.35"/>
<circle cx="193.7" cy="434.5" r="2.35"/>
<circle cx="205.9" cy="424.8" r="2.35"/>
<circle cx="169.3" cy="446.7" r="2.35"/>
<circle cx="191.3" cy="456.5" r="2.35"/>
<circle cx="181.5" cy="444.3" r="2.35"/>
<circle cx="196.1" cy="417.4" r="2.35"/>
<circle cx="213.2" cy="427.2" r="2.35"/>
<circle cx="149.8" cy="473.6" r="2.35"/>
<circle cx="166.9" cy="463.8" r="2.35"/>
<circle cx="188.8" cy="439.4" r="2.35"/>
<circle cx="208.3" cy="407.7" r="2.35"/>
<circle cx="193.7" cy="427.2" r="2.35"/>
<circle cx="218.1" cy="422.3" r="2.35"/>
<circle cx="174.2" cy="463.8" r="2.35"/>
<circle cx="169.3" cy="434.5" r="2.35"/>
<circle cx="140.0" cy="463.8" r="2.35"/>
<circle cx="196.1" cy="441.8" r="2.35"/>
<circle cx="157.1" cy="456.5" r="2.35"/>
<circle cx="208.3" cy="415.0" r="2.35"/>
<circle cx="198.6" cy="415.0" r="2.35"/>
<circle cx="181.5" cy="407.7" r="2.35"/>
<circle cx="227.9" cy="415.0" r="2.35"/>
<circle cx="191.3" cy="419.9" r="2.35"/>
<circle cx="205.9" cy="419.9" r="2.35"/>
<circle cx="166.9" cy="463.8" r="2.35"/>
<circle cx="149.8" cy="456.5" r="2.35"/>
<circle cx="186.4" cy="419.9" r="2.35"/>
<circle cx="198.6" cy="446.7" r="2.35"/>
<circle cx="196.1" cy="434.5" r="2.35"/>
<circle cx="227.9" cy="385.7" r="2.35"/>
<circle cx="169.3" cy="483.3" r="2.35"/>
<circle cx="179.1" cy="429.6" r="2.35"/>
<circle cx="227.9" cy="393.0" r="2.35"/>
<circle cx="154.7" cy="468.7" r="2.35"/>
<circle cx="159.5" cy="458.9" r="2.35"/>
<circle cx="130.3" cy="468.7" r="2.35"/>
<circle cx="208.3" cy="415.0" r="2.35"/>
<circle cx="205.9" cy="424.8" r="2.35"/>
<circle cx="137.6" cy="461.4" r="2.35"/>
<circle cx="230.3" cy="397.9" r="2.35"/>
<circle cx="179.1" cy="454.0" r="2.35"/>
<circle cx="191.3" cy="458.9" r="2.35"/>
<circle cx="193.7" cy="410.1" r="2.35"/>
<circle cx="210.8" cy="405.2" r="2.35"/>
<circle cx="157.1" cy="458.9" r="2.35"/>
<circle cx="193.7" cy="427.2" r="2.35"/>
<circle cx="186.4" cy="439.4" r="2.35"/>
<circle cx="176.6" cy="466.2" r="2.35"/>
<circle cx="232.7" cy="378.4" r="2.35"/>
<circle cx="144.9" cy="480.9" r="2.35"/>
<circle cx="191.3" cy="400.4" r="2.35"/>
<circle cx="213.2" cy="417.4" r="2.35"/>
<circle cx="208.3" cy="385.7" r="2.35"/>
<circle cx="162.0" cy="485.8" r="2.35"/>
<circle cx="164.4" cy="449.2" r="2.35"/>
<circle cx="213.2" cy="376.0" r="2.35"/>
<circle cx="196.1" cy="427.2" r="2.35"/>
<circle cx="176.6" cy="432.1" r="2.35"/>
<circle cx="205.9" cy="422.3" r="2.35"/>
<circle cx="157.1" cy="466.2" r="2.35"/>
<circle cx="191.3" cy="434.5" r="2.35"/>
<circle cx="183.9" cy="456.5" r="2.35"/>
<circle cx="154.7" cy="456.5" r="2.35"/>
<circle cx="176.6" cy="439.4" r="2.35"/>
<circle cx="179.1" cy="454.0" r="2.35"/>
<circle cx="201.0" cy="451.6" r="2.35"/>
<circle cx="186.4" cy="439.4" r="2.35"/>
<circle cx="157.1" cy="427.2" r="2.35"/>
<circle cx="181.5" cy="458.9" r="2.35"/>
<circle cx="183.9" cy="432.1" r="2.35"/>
<circle cx="186.4" cy="446.7" r="2.35"/>
<circle cx="179.1" cy="429.6" r="2.35"/>
<circle cx="181.5" cy="434.5" r="2.35"/>
<circle cx="169.3" cy="463.8" r="2.35"/>
<circle cx="210.8" cy="446.7" r="2.35"/>
<circle cx="164.4" cy="471.1" r="2.35"/>
<circle cx="193.7" cy="407.7" r="2.35"/>
<circle cx="179.1" cy="434.5" r="2.35"/>
<circle cx="193.7" cy="439.4" r="2.35"/>
<circle cx="181.5" cy="437.0" r="2.35"/>
<circle cx="157.1" cy="463.8" r="2.35"/>
<circle cx="205.9" cy="429.6" r="2.35"/>
<circle cx="166.9" cy="466.2" r="2.35"/>
<circle cx="205.9" cy="410.1" r="2.35"/>
<circle cx="162.0" cy="476.0" r="2.35"/>
<circle cx="186.4" cy="429.6" r="2.35"/>
<circle cx="198.6" cy="429.6" r="2.35"/>
<circle cx="201.0" cy="422.3" r="2.35"/>
<circle cx="164.4" cy="473.6" r="2.35"/>
<circle cx="201.0" cy="437.0" r="2.35"/>
<circle cx="186.4" cy="429.6" r="2.35"/>
<circle cx="171.7" cy="444.3" r="2.35"/>
<circle cx="171.7" cy="434.5" r="2.35"/>
<circle cx="198.6" cy="419.9" r="2.35"/>
<circle cx="196.1" cy="458.9" r="2.35"/>
<circle cx="166.9" cy="471.1" r="2.35"/>
<circle cx="159.5" cy="449.2" r="2.35"/>
<circle cx="193.7" cy="434.5" r="2.35"/>
<circle cx="193.7" cy="444.3" r="2.35"/>
<circle cx="164.4" cy="463.8" r="2.35"/>
<circle cx="176.6" cy="439.4" r="2.35"/>
<circle cx="188.8" cy="432.1" r="2.35"/>
<circle cx="135.1" cy="483.3" r="2.35"/>
<circle cx="157.1" cy="483.3" r="2.35"/>
<circle cx="144.9" cy="490.6" r="2.35"/>
<circle cx="149.8" cy="483.3" r="2.35"/>
<circle cx="193.7" cy="429.6" r="2.35"/>
<circle cx="210.8" cy="451.6" r="2.35"/>
<circle cx="147.3" cy="485.8" r="2.35"/>
<circle cx="220.5" cy="424.8" r="2.35"/>
<circle cx="203.5" cy="388.2" r="2.35"/>
<circle cx="174.2" cy="422.3" r="2.35"/>
<circle cx="181.5" cy="407.7" r="2.35"/>
<circle cx="191.3" cy="417.4" r="2.35"/>
<circle cx="174.2" cy="458.9" r="2.35"/>
<circle cx="164.4" cy="463.8" r="2.35"/>
<circle cx="169.3" cy="444.3" r="2.35"/>
<circle cx="142.5" cy="500.4" r="2.35"/>
<circle cx="215.7" cy="417.4" r="2.35"/>
<circle cx="164.4" cy="451.6" r="2.35"/>
<circle cx="149.8" cy="480.9" r="2.35"/>
<circle cx="193.7" cy="454.0" r="2.35"/>
<circle cx="186.4" cy="437.0" r="2.35"/>
<circle cx="183.9" cy="458.9" r="2.35"/>
<circle cx="240.1" cy="383.3" r="2.35"/>
<circle cx="166.9" cy="468.7" r="2.35"/>
<circle cx="179.1" cy="449.2" r="2.35"/>
<circle cx="179.1" cy="427.2" r="2.35"/>
<circle cx="176.6" cy="432.1" r="2.35"/>
<circle cx="176.6" cy="444.3" r="2.35"/>
<circle cx="198.6" cy="424.8" r="2.35"/>
<circle cx="179.1" cy="444.3" r="2.35"/>
<circle cx="230.3" cy="385.7" r="2.35"/>
<circle cx="159.5" cy="454.0" r="2.35"/>
<circle cx="183.9" cy="439.4" r="2.35"/>
<circle cx="196.1" cy="417.4" r="2.35"/>
<circle cx="215.7" cy="432.1" r="2.35"/>
<circle cx="225.4" cy="376.0" r="2.35"/>
<circle cx="154.7" cy="437.0" r="2.35"/>
<circle cx="215.7" cy="402.8" r="2.35"/>
<circle cx="198.6" cy="454.0" r="2.35"/>
<circle cx="132.7" cy="473.6" r="2.35"/>
<circle cx="215.7" cy="412.6" r="2.35"/>
<circle cx="174.2" cy="454.0" r="2.35"/>
<circle cx="193.7" cy="415.0" r="2.35"/>
<circle cx="169.3" cy="451.6" r="2.35"/>
<circle cx="152.2" cy="451.6" r="2.35"/>
<circle cx="193.7" cy="415.0" r="2.35"/>
<circle cx="215.7" cy="402.8" r="2.35"/>
<circle cx="186.4" cy="458.9" r="2.35"/>
<circle cx="196.1" cy="424.8" r="2.35"/>
<circle cx="181.5" cy="429.6" r="2.35"/>
<circle cx="188.8" cy="456.5" r="2.35"/>
<circle cx="174.2" cy="444.3" r="2.35"/>
<circle cx="198.6" cy="429.6" r="2.35"/>
<circle cx="166.9" cy="456.5" r="2.35"/>
<circle cx="166.9" cy="468.7" r="2.35"/>
<circle cx="213.2" cy="432.1" r="2.35"/>
<circle cx="152.2" cy="463.8" r="2.35"/>
<circle cx="201.0" cy="422.3" r="2.35"/>
<circle cx="196.1" cy="422.3" r="2.35"/>
<circle cx="215.7" cy="390.6" r="2.35"/>
<circle cx="166.9" cy="468.7" r="2.35"/>
<circle cx="213.2" cy="388.2" r="2.35"/>
<circle cx="198.6" cy="400.4" r="2.35"/>
<circle cx="154.7" cy="466.2" r="2.35"/>
<circle cx="176.6" cy="419.9" r="2.35"/>
<circle cx="196.1" cy="437.0" r="2.35"/>
<circle cx="186.4" cy="419.9" r="2.35"/>
<circle cx="137.6" cy="488.2" r="2.35"/>
<circle cx="201.0" cy="439.4" r="2.35"/>
<circle cx="176.6" cy="451.6" r="2.35"/>
<circle cx="215.7" cy="417.4" r="2.35"/>
<circle cx="196.1" cy="437.0" r="2.35"/>
<circle cx="169.3" cy="454.0" r="2.35"/>
<circle cx="152.2" cy="456.5" r="2.35"/>
<circle cx="181.5" cy="449.2" r="2.35"/>
<circle cx="191.3" cy="427.2" r="2.35"/>
<circle cx="196.1" cy="454.0" r="2.35"/>
<circle cx="152.2" cy="473.6" r="2.35"/>
<circle cx="203.5" cy="402.8" r="2.35"/>
<circle cx="181.5" cy="432.1" r="2.35"/>
<circle cx="196.1" cy="437.0" r="2.35"/>
<circle cx="210.8" cy="429.6" r="2.35"/>
<circle cx="193.7" cy="432.1" r="2.35"/>
<circle cx="191.3" cy="456.5" r="2.35"/>
<circle cx="232.7" cy="412.6" r="2.35"/>
<circle cx="171.7" cy="434.5" r="2.35"/>
<circle cx="186.4" cy="456.5" r="2.35"/>
<circle cx="169.3" cy="419.9" r="2.35"/>
<circle cx="196.1" cy="454.0" r="2.35"/>
<circle cx="186.4" cy="429.6" r="2.35"/>
<circle cx="171.7" cy="451.6" r="2.35"/>
<circle cx="208.3" cy="432.1" r="2.35"/>
<circle cx="210.8" cy="407.7" r="2.35"/>
<circle cx="152.2" cy="476.0" r="2.35"/>
<circle cx="183.9" cy="451.6" r="2.35"/>
<circle cx="147.3" cy="473.6" r="2.35"/>
<circle cx="154.7" cy="444.3" r="2.35"/>
<circle cx="157.1" cy="480.9" r="2.35"/>
<circle cx="183.9" cy="424.8" r="2.35"/>
<circle cx="169.3" cy="454.0" r="2.35"/>
<circle cx="218.1" cy="405.2" r="2.35"/>
<circle cx="157.1" cy="427.2" r="2.35"/>
<circle cx="176.6" cy="461.4" r="2.35"/>
<circle cx="220.5" cy="407.7" r="2.35"/>
<circle cx="157.1" cy="476.0" r="2.35"/>
<circle cx="176.6" cy="441.8" r="2.35"/>
<circle cx="140.0" cy="456.5" r="2.35"/>
<circle cx="176.6" cy="424.8" r="2.35"/>
<circle cx="174.2" cy="461.4" r="2.35"/>
<circle cx="164.4" cy="454.0" r="2.35"/>
<circle cx="208.3" cy="378.4" r="2.35"/>
<circle cx="203.5" cy="417.4" r="2.35"/>
<circle cx="174.2" cy="439.4" r="2.35"/>
<circle cx="193.7" cy="458.9" r="2.35"/>
<circle cx="179.1" cy="458.9" r="2.35"/>
<circle cx="232.7" cy="378.4" r="2.35"/>
<circle cx="159.5" cy="458.9" r="2.35"/>
<circle cx="171.7" cy="471.1" r="2.35"/>
<circle cx="191.3" cy="437.0" r="2.35"/>
<circle cx="220.5" cy="400.4" r="2.35"/>
<circle cx="152.2" cy="476.0" r="2.35"/>
<circle cx="174.2" cy="439.4" r="2.35"/>
<circle cx="174.2" cy="446.7" r="2.35"/>
<circle cx="201.0" cy="417.4" r="2.35"/>
<circle cx="220.5" cy="422.3" r="2.35"/>
<circle cx="169.3" cy="449.2" r="2.35"/>
<circle cx="130.3" cy="495.5" r="2.35"/>
<circle cx="193.7" cy="444.3" r="2.35"/>
<circle cx="220.5" cy="417.4" r="2.35"/>
<circle cx="198.6" cy="410.1" r="2.35"/>
<circle cx="176.6" cy="461.4" r="2.35"/>
<circle cx="164.4" cy="476.0" r="2.35"/>
<circle cx="218.1" cy="400.4" r="2.35"/>
<circle cx="218.1" cy="402.8" r="2.35"/>
<circle cx="162.0" cy="471.1" r="2.35"/>
<circle cx="154.7" cy="456.5" r="2.35"/>
<circle cx="198.6" cy="432.1" r="2.35"/>
<circle cx="198.6" cy="395.5" r="2.35"/>
<circle cx="179.1" cy="468.7" r="2.35"/>
<circle cx="203.5" cy="439.4" r="2.35"/>
<circle cx="193.7" cy="441.8" r="2.35"/>
<circle cx="152.2" cy="458.9" r="2.35"/>
<circle cx="152.2" cy="458.9" r="2.35"/>
<circle cx="157.1" cy="480.9" r="2.35"/>
<circle cx="157.1" cy="461.4" r="2.35"/>
<circle cx="152.2" cy="483.3" r="2.35"/>
<circle cx="174.2" cy="446.7" r="2.35"/>
<circle cx="164.4" cy="458.9" r="2.35"/>
<circle cx="169.3" cy="446.7" r="2.35"/>
<circle cx="203.5" cy="432.1" r="2.35"/>
<circle cx="159.5" cy="468.7" r="2.35"/>
<circle cx="164.4" cy="458.9" r="2.35"/>
<circle cx="186.4" cy="434.5" r="2.35"/>
<circle cx="193.7" cy="393.0" r="2.35"/>
<circle cx="144.9" cy="490.6" r="2.35"/>
<circle cx="198.6" cy="410.1" r="2.35"/>
<circle cx="198.6" cy="422.3" r="2.35"/>
<circle cx="166.9" cy="437.0" r="2.35"/>
<circle cx="144.9" cy="444.3" r="2.35"/>
<circle cx="196.1" cy="429.6" r="2.35"/>
<circle cx="213.2" cy="405.2" r="2.35"/>
<circle cx="171.7" cy="444.3" r="2.35"/>
<circle cx="213.2" cy="434.5" r="2.35"/>
<circle cx="203.5" cy="429.6" r="2.35"/>
<circle cx="218.1" cy="373.5" r="2.35"/>
<circle cx="186.4" cy="439.4" r="2.35"/>
<circle cx="181.5" cy="449.2" r="2.35"/>
<circle cx="149.8" cy="437.0" r="2.35"/>
<circle cx="179.1" cy="454.0" r="2.35"/>
<circle cx="154.7" cy="446.7" r="2.35"/>
<circle cx="171.7" cy="468.7" r="2.35"/>
<circle cx="154.7" cy="488.2" r="2.35"/>
<circle cx="159.5" cy="449.2" r="2.35"/>
<circle cx="193.7" cy="417.4" r="2.35"/>
<circle cx="176.6" cy="434.5" r="2.35"/>
<circle cx="137.6" cy="485.8" r="2.35"/>
<circle cx="188.8" cy="432.1" r="2.35"/>
<circle cx="193.7" cy="439.4" r="2.35"/>
<circle cx="210.8" cy="424.8" r="2.35"/>
<circle cx="230.3" cy="402.8" r="2.35"/>
<circle cx="176.6" cy="454.0" r="2.35"/>
<circle cx="230.3" cy="415.0" r="2.35"/>
<circle cx="144.9" cy="485.8" r="2.35"/>
<circle cx="218.1" cy="432.1" r="2.35"/>
<circle cx="154.7" cy="471.1" r="2.35"/>
<circle cx="157.1" cy="473.6" r="2.35"/>
<circle cx="225.4" cy="417.4" r="2.35"/>
<circle cx="159.5" cy="449.2" r="2.35"/>
<circle cx="186.4" cy="397.9" r="2.35"/>
<circle cx="171.7" cy="429.6" r="2.35"/>
<circle cx="205.9" cy="441.8" r="2.35"/>
<circle cx="164.4" cy="439.4" r="2.35"/>
<circle cx="144.9" cy="480.9" r="2.35"/>
<circle cx="227.9" cy="393.0" r="2.35"/>
<circle cx="235.2" cy="397.9" r="2.35"/>
<circle cx="188.8" cy="434.5" r="2.35"/>
<circle cx="169.3" cy="427.2" r="2.35"/>
<circle cx="162.0" cy="456.5" r="2.35"/>
<circle cx="164.4" cy="468.7" r="2.35"/>
<circle cx="166.9" cy="471.1" r="2.35"/>
<circle cx="157.1" cy="478.4" r="2.35"/>
<circle cx="176.6" cy="437.0" r="2.35"/>
<circle cx="208.3" cy="376.0" r="2.35"/>
<circle cx="183.9" cy="461.4" r="2.35"/>
<circle cx="198.6" cy="422.3" r="2.35"/>
<circle cx="205.9" cy="424.8" r="2.35"/>
<circle cx="171.7" cy="466.2" r="2.35"/>
<circle cx="203.5" cy="412.6" r="2.35"/>
<circle cx="179.1" cy="437.0" r="2.35"/>
<circle cx="240.1" cy="397.9" r="2.35"/>
<circle cx="166.9" cy="434.5" r="2.35"/>
<circle cx="176.6" cy="444.3" r="2.35"/>
<circle cx="166.9" cy="468.7" r="2.35"/>
<circle cx="225.4" cy="385.7" r="2.35"/>
<circle cx="179.1" cy="456.5" r="2.35"/>
<circle cx="193.7" cy="451.6" r="2.35"/>
<circle cx="215.7" cy="407.7" r="2.35"/>
<circle cx="149.8" cy="461.4" r="2.35"/>
<circle cx="171.7" cy="476.0" r="2.35"/>
<circle cx="203.5" cy="395.5" r="2.35"/>
<circle cx="188.8" cy="419.9" r="2.35"/>
<circle cx="205.9" cy="432.1" r="2.35"/>
<circle cx="193.7" cy="429.6" r="2.35"/>
<circle cx="169.3" cy="446.7" r="2.35"/>
<circle cx="213.2" cy="393.0" r="2.35"/>
<circle cx="218.1" cy="429.6" r="2.35"/>
<circle cx="186.4" cy="463.8" r="2.35"/>
<circle cx="152.2" cy="454.0" r="2.35"/>
<circle cx="198.6" cy="419.9" r="2.35"/>
<circle cx="171.7" cy="446.7" r="2.35"/>
<circle cx="162.0" cy="456.5" r="2.35"/>
<circle cx="154.7" cy="441.8" r="2.35"/>
<circle cx="171.7" cy="434.5" r="2.35"/>
<circle cx="201.0" cy="437.0" r="2.35"/>
<circle cx="144.9" cy="468.7" r="2.35"/>
<circle cx="142.5" cy="461.4" r="2.35"/>
<circle cx="157.1" cy="495.5" r="2.35"/>
<circle cx="186.4" cy="432.1" r="2.35"/>
<circle cx="171.7" cy="458.9" r="2.35"/>
<circle cx="142.5" cy="493.1" r="2.35"/>
<circle cx="198.6" cy="446.7" r="2.35"/>
<circle cx="174.2" cy="468.7" r="2.35"/>
<circle cx="213.2" cy="395.5" r="2.35"/>
<circle cx="191.3" cy="415.0" r="2.35"/>
<circle cx="203.5" cy="432.1" r="2.35"/>
<circle cx="198.6" cy="400.4" r="2.35"/>
<circle cx="159.5" cy="458.9" r="2.35"/>
<circle cx="166.9" cy="478.4" r="2.35"/>
<circle cx="164.4" cy="471.1" r="2.35"/>
<circle cx="191.3" cy="427.2" r="2.35"/>
<circle cx="196.1" cy="446.7" r="2.35"/>
<circle cx="159.5" cy="439.4" r="2.35"/>
<circle cx="196.1" cy="422.3" r="2.35"/>
<circle cx="218.1" cy="393.0" r="2.35"/>
<circle cx="162.0" cy="483.3" r="2.35"/>
<circle cx="213.2" cy="424.8" r="2.35"/>
<circle cx="225.4" cy="412.6" r="2.35"/>
<circle cx="193.7" cy="424.8" r="2.35"/>
<circle cx="205.9" cy="422.3" r="2.35"/>
<circle cx="181.5" cy="449.2" r="2.35"/>
<circle cx="154.7" cy="468.7" r="2.35"/>
<circle cx="220.5" cy="395.5" r="2.35"/>
<circle cx="152.2" cy="446.7" r="2.35"/>
<circle cx="205.9" cy="419.9" r="2.35"/>
<circle cx="223.0" cy="397.9" r="2.35"/>
<circle cx="179.1" cy="417.4" r="2.35"/>
<circle cx="198.6" cy="437.0" r="2.35"/>
<circle cx="223.0" cy="397.9" r="2.35"/>
<circle cx="235.2" cy="393.0" r="2.35"/>
<circle cx="157.1" cy="461.4" r="2.35"/>
<circle cx="149.8" cy="476.0" r="2.35"/>
<circle cx="203.5" cy="434.5" r="2.35"/>
<circle cx="205.9" cy="419.9" r="2.35"/>
<circle cx="179.1" cy="427.2" r="2.35"/>
<circle cx="179.1" cy="424.8" r="2.35"/>
<circle cx="166.9" cy="441.8" r="2.35"/>
<circle cx="186.4" cy="422.3" r="2.35"/>
<circle cx="152.2" cy="480.9" r="2.35"/>
<circle cx="205.9" cy="424.8" r="2.35"/>
<circle cx="208.3" cy="395.5" r="2.35"/>
<circle cx="213.2" cy="429.6" r="2.35"/>
<circle cx="162.0" cy="468.7" r="2.35"/>
<circle cx="196.1" cy="432.1" r="2.35"/>
<circle cx="188.8" cy="446.7" r="2.35"/>
<circle cx="205.9" cy="441.8" r="2.35"/>
<circle cx="191.3" cy="419.9" r="2.35"/>
<circle cx="166.9" cy="473.6" r="2.35"/>
<circle cx="203.5" cy="424.8" r="2.35"/>
<circle cx="183.9" cy="456.5" r="2.35"/>
<circle cx="154.7" cy="446.7" r="2.35"/>
<circle cx="201.0" cy="432.1" r="2.35"/>
<circle cx="188.8" cy="429.6" r="2.35"/>
<circle cx="230.3" cy="415.0" r="2.35"/>
<circle cx="210.8" cy="419.9" r="2.35"/>
<circle cx="223.0" cy="405.2" r="2.35"/>
<circle cx="179.1" cy="454.0" r="2.35"/>
<circle cx="223.0" cy="410.1" r="2.35"/>
<circle cx="208.3" cy="412.6" r="2.35"/>
<circle cx="210.8" cy="376.0" r="2.35"/>
<circle cx="235.2" cy="388.2" r="2.35"/>
<circle cx="166.9" cy="463.8" r="2.35"/>
<circle cx="164.4" cy="468.7" r="2.35"/>
<circle cx="191.3" cy="422.3" r="2.35"/>
<circle cx="144.9" cy="468.7" r="2.35"/>
<circle cx="186.4" cy="449.2" r="2.35"/>
<circle cx="152.2" cy="480.9" r="2.35"/>
<circle cx="203.5" cy="417.4" r="2.35"/>
<circle cx="164.4" cy="476.0" r="2.35"/>
<circle cx="205.9" cy="429.6" r="2.35"/>
<circle cx="198.6" cy="419.9" r="2.35"/>
<circle cx="176.6" cy="446.7" r="2.35"/>
<circle cx="198.6" cy="400.4" r="2.35"/>
<circle cx="210.8" cy="407.7" r="2.35"/>
<circle cx="220.5" cy="427.2" r="2.35"/>
<circle cx="152.2" cy="458.9" r="2.35"/>
<circle cx="220.5" cy="422.3" r="2.35"/>
<circle cx="169.3" cy="463.8" r="2.35"/>
<circle cx="169.3" cy="466.2" r="2.35"/>
<circle cx="210.8" cy="434.5" r="2.35"/>
<circle cx="179.1" cy="437.0" r="2.35"/>
<circle cx="220.5" cy="424.8" r="2.35"/>
<circle cx="213.2" cy="439.4" r="2.35"/>
<circle cx="154.7" cy="480.9" r="2.35"/>
<circle cx="176.6" cy="439.4" r="2.35"/>
<circle cx="183.9" cy="432.1" r="2.35"/>
<circle cx="203.5" cy="449.2" r="2.35"/>
<circle cx="235.2" cy="400.4" r="2.35"/>
<circle cx="203.5" cy="422.3" r="2.35"/>
<circle cx="201.0" cy="405.2" r="2.35"/>
<circle cx="171.7" cy="444.3" r="2.35"/>
<circle cx="154.7" cy="478.4" r="2.35"/>
<circle cx="225.4" cy="415.0" r="2.35"/>
<circle cx="215.7" cy="385.7" r="2.35"/>
<circle cx="135.1" cy="476.0" r="2.35"/>
<circle cx="186.4" cy="439.4" r="2.35"/>
<circle cx="196.1" cy="395.5" r="2.35"/>
<circle cx="166.9" cy="483.3" r="2.35"/>
<circle cx="188.8" cy="449.2" r="2.35"/>
<circle cx="208.3" cy="424.8" r="2.35"/>
<circle cx="196.1" cy="444.3" r="2.35"/>
<circle cx="232.7" cy="395.5" r="2.35"/>
<circle cx="213.2" cy="410.1" r="2.35"/>
<circle cx="230.3" cy="400.4" r="2.35"/>
<circle cx="171.7" cy="441.8" r="2.35"/>
<circle cx="201.0" cy="424.8" r="2.35"/>
<circle cx="210.8" cy="412.6" r="2.35"/>
<circle cx="213.2" cy="400.4" r="2.35"/>
<circle cx="188.8" cy="434.5" r="2.35"/>
<circle cx="240.1" cy="378.4" r="2.35"/>
<circle cx="171.7" cy="451.6" r="2.35"/>
<circle cx="198.6" cy="415.0" r="2.35"/>
<circle cx="208.3" cy="429.6" r="2.35"/>
<circle cx="166.9" cy="437.0" r="2.35"/>
<circle cx="166.9" cy="427.2" r="2.35"/>
<circle cx="193.7" cy="407.7" r="2.35"/>
<circle cx="154.7" cy="483.3" r="2.35"/>
<circle cx="208.3" cy="446.7" r="2.35"/>
<circle cx="144.9" cy="490.6" r="2.35"/>
<circle cx="137.6" cy="488.2" r="2.35"/>
<circle cx="215.7" cy="390.6" r="2.35"/>
<circle cx="188.8" cy="439.4" r="2.35"/>
<circle cx="215.7" cy="412.6" r="2.35"/>
<circle cx="183.9" cy="407.7" r="2.35"/>
<circle cx="144.9" cy="498.0" r="2.35"/>
<circle cx="223.0" cy="373.5" r="2.35"/>
<circle cx="174.2" cy="432.1" r="2.35"/>
<circle cx="186.4" cy="463.8" r="2.35"/>
<circle cx="176.6" cy="441.8" r="2.35"/>
<circle cx="149.8" cy="495.5" r="2.35"/>
<circle cx="198.6" cy="417.4" r="2.35"/>
<circle cx="215.7" cy="415.0" r="2.35"/>
<circle cx="154.7" cy="468.7" r="2.35"/>
<circle cx="169.3" cy="478.4" r="2.35"/>
<circle cx="157.1" cy="476.0" r="2.35"/>
<circle cx="164.4" cy="466.2" r="2.35"/>
<circle cx="191.3" cy="461.4" r="2.35"/>
<circle cx="169.3" cy="446.7" r="2.35"/>
<circle cx="162.0" cy="463.8" r="2.35"/>
<circle cx="191.3" cy="437.0" r="2.35"/>
<circle cx="164.4" cy="451.6" r="2.35"/>
<circle cx="142.5" cy="451.6" r="2.35"/>
<circle cx="210.8" cy="427.2" r="2.35"/>
<circle cx="181.5" cy="429.6" r="2.35"/>
<circle cx="196.1" cy="385.7" r="2.35"/>
<circle cx="186.4" cy="437.0" r="2.35"/>
<circle cx="196.1" cy="397.9" r="2.35"/>
<circle cx="132.7" cy="471.1" r="2.35"/>
<circle cx="171.7" cy="456.5" r="2.35"/>
<circle cx="154.7" cy="458.9" r="2.35"/>
<circle cx="198.6" cy="402.8" r="2.35"/>
<circle cx="188.8" cy="410.1" r="2.35"/>
<circle cx="179.1" cy="424.8" r="2.35"/>
<circle cx="174.2" cy="454.0" r="2.35"/>
<circle cx="210.8" cy="424.8" r="2.35"/>
<circle cx="186.4" cy="449.2" r="2.35"/>
<circle cx="193.7" cy="432.1" r="2.35"/>
<circle cx="208.3" cy="407.7" r="2.35"/>
<circle cx="181.5" cy="451.6" r="2.35"/>
<circle cx="174.2" cy="449.2" r="2.35"/>
<circle cx="213.2" cy="388.2" r="2.35"/>
<circle cx="171.7" cy="446.7" r="2.35"/>
<circle cx="201.0" cy="376.0" r="2.35"/>
<circle cx="191.3" cy="456.5" r="2.35"/>
<circle cx="179.1" cy="458.9" r="2.35"/>
<circle cx="218.1" cy="427.2" r="2.35"/>
<circle cx="157.1" cy="461.4" r="2.35"/>
<circle cx="196.1" cy="444.3" r="2.35"/>
<circle cx="181.5" cy="463.8" r="2.35"/>
<circle cx="183.9" cy="446.7" r="2.35"/>
<circle cx="227.9" cy="376.0" r="2.35"/>
<circle cx="149.8" cy="485.8" r="2.35"/>
<circle cx="152.2" cy="483.3" r="2.35"/>
<circle cx="193.7" cy="410.1" r="2.35"/>
<circle cx="164.4" cy="451.6" r="2.35"/>
<circle cx="162.0" cy="456.5" r="2.35"/>
<circle cx="144.9" cy="468.7" r="2.35"/>
<circle cx="225.4" cy="390.6" r="2.35"/>
<circle cx="186.4" cy="449.2" r="2.35"/>
<circle cx="159.5" cy="446.7" r="2.35"/>
<circle cx="198.6" cy="407.7" r="2.35"/>
<circle cx="227.9" cy="412.6" r="2.35"/>
<circle cx="183.9" cy="415.0" r="2.35"/>
<circle cx="196.1" cy="451.6" r="2.35"/>
<circle cx="147.3" cy="458.9" r="2.35"/>
<circle cx="191.3" cy="429.6" r="2.35"/>
<circle cx="174.2" cy="473.6" r="2.35"/>
<circle cx="144.9" cy="490.6" r="2.35"/>
<circle cx="149.8" cy="478.4" r="2.35"/>
<circle cx="188.8" cy="449.2" r="2.35"/>
<circle cx="218.1" cy="393.0" r="2.35"/>
<circle cx="237.6" cy="407.7" r="2.35"/>
<circle cx="174.2" cy="454.0" r="2.35"/>
<circle cx="171.7" cy="451.6" r="2.35"/>
<circle cx="188.8" cy="427.2" r="2.35"/>
<circle cx="227.9" cy="419.9" r="2.35"/>
<circle cx="215.7" cy="417.4" r="2.35"/>
<circle cx="191.3" cy="437.0" r="2.35"/>
<circle cx="223.0" cy="378.4" r="2.35"/>
<circle cx="169.3" cy="466.2" r="2.35"/>
<circle cx="142.5" cy="458.9" r="2.35"/>
<circle cx="188.8" cy="405.2" r="2.35"/>
<circle cx="132.7" cy="478.4" r="2.35"/>
<circle cx="188.8" cy="407.7" r="2.35"/>
<circle cx="220.5" cy="393.0" r="2.35"/>
<circle cx="208.3" cy="427.2" r="2.35"/>
<circle cx="186.4" cy="427.2" r="2.35"/>
<circle cx="198.6" cy="405.2" r="2.35"/>
<circle cx="188.8" cy="429.6" r="2.35"/>
<circle cx="152.2" cy="478.4" r="2.35"/>
<circle cx="198.6" cy="454.0" r="2.35"/>
<circle cx="157.1" cy="456.5" r="2.35"/>
<circle cx="223.0" cy="422.3" r="2.35"/>
<circle cx="181.5" cy="439.4" r="2.35"/>
<circle cx="191.3" cy="417.4" r="2.35"/>
<circle cx="181.5" cy="446.7" r="2.35"/>
<circle cx="159.5" cy="454.0" r="2.35"/>
<circle cx="227.9" cy="395.5" r="2.35"/>
<circle cx="157.1" cy="461.4" r="2.35"/>
<circle cx="166.9" cy="439.4" r="2.35"/>
<circle cx="181.5" cy="412.6" r="2.35"/>
<circle cx="223.0" cy="397.9" r="2.35"/>
<circle cx="169.3" cy="444.3" r="2.35"/>
<circle cx="154.7" cy="451.6" r="2.35"/>
<circle cx="171.7" cy="422.3" r="2.35"/>
<circle cx="147.3" cy="500.4" r="2.35"/>
<circle cx="169.3" cy="466.2" r="2.35"/>
<circle cx="183.9" cy="458.9" r="2.35"/>
<circle cx="152.2" cy="461.4" r="2.35"/>
<circle cx="198.6" cy="400.4" r="2.35"/>
<circle cx="176.6" cy="429.6" r="2.35"/>
<circle cx="205.9" cy="407.7" r="2.35"/>
<circle cx="205.9" cy="456.5" r="2.35"/>
<circle cx="176.6" cy="461.4" r="2.35"/>
<circle cx="196.1" cy="410.1" r="2.35"/>
<circle cx="169.3" cy="485.8" r="2.35"/>
<circle cx="169.3" cy="461.4" r="2.35"/>
<circle cx="220.5" cy="402.8" r="2.35"/>
<circle cx="183.9" cy="424.8" r="2.35"/>
<circle cx="210.8" cy="405.2" r="2.35"/>
<circle cx="193.7" cy="422.3" r="2.35"/>
<circle cx="159.5" cy="476.0" r="2.35"/>
<circle cx="174.2" cy="449.2" r="2.35"/>
<circle cx="223.0" cy="397.9" r="2.35"/>
<circle cx="176.6" cy="434.5" r="2.35"/>
<circle cx="215.7" cy="410.1" r="2.35"/>
<circle cx="179.1" cy="424.8" r="2.35"/>
<circle cx="205.9" cy="393.0" r="2.35"/>
<circle cx="181.5" cy="449.2" r="2.35"/>
<circle cx="135.1" cy="473.6" r="2.35"/>
<circle cx="176.6" cy="434.5" r="2.35"/>
<circle cx="157.1" cy="439.4" r="2.35"/>
<circle cx="142.5" cy="498.0" r="2.35"/>
<circle cx="174.2" cy="449.2" r="2.35"/>
<circle cx="198.6" cy="429.6" r="2.35"/>
<circle cx="142.5" cy="483.3" r="2.35"/>
<circle cx="137.6" cy="493.1" r="2.35"/>
<circle cx="220.5" cy="405.2" r="2.35"/>
<circle cx="196.1" cy="441.8" r="2.35"/>
<circle cx="218.1" cy="405.2" r="2.35"/>
<circle cx="157.1" cy="444.3" r="2.35"/>
<circle cx="201.0" cy="383.3" r="2.35"/>
<circle cx="171.7" cy="468.7" r="2.35"/>
<circle cx="149.8" cy="498.0" r="2.35"/>
<circle cx="198.6" cy="417.4" r="2.35"/>
<circle cx="215.7" cy="417.4" r="2.35"/>
<circle cx="144.9" cy="490.6" r="2.35"/>
<circle cx="183.9" cy="434.5" r="2.35"/>
<circle cx="169.3" cy="454.0" r="2.35"/>
<circle cx="193.7" cy="390.6" r="2.35"/>
<circle cx="174.2" cy="439.4" r="2.35"/>
<circle cx="198.6" cy="405.2" r="2.35"/>
<circle cx="201.0" cy="419.9" r="2.35"/>
<circle cx="181.5" cy="466.2" r="2.35"/>
<circle cx="193.7" cy="446.7" r="2.35"/>
<circle cx="154.7" cy="449.2" r="2.35"/>
<circle cx="164.4" cy="473.6" r="2.35"/>
<circle cx="201.0" cy="437.0" r="2.35"/>
<circle cx="210.8" cy="424.8" r="2.35"/>
<circle cx="181.5" cy="451.6" r="2.35"/>
<circle cx="174.2" cy="422.3" r="2.35"/>
<circle cx="171.7" cy="476.0" r="2.35"/>
<circle cx="181.5" cy="468.7" r="2.35"/>
<circle cx="169.3" cy="446.7" r="2.35"/>
<circle cx="174.2" cy="458.9" r="2.35"/>
<circle cx="147.3" cy="458.9" r="2.35"/>
<circle cx="174.2" cy="449.2" r="2.35"/>
<circle cx="142.5" cy="493.1" r="2.35"/>
<circle cx="205.9" cy="432.1" r="2.35"/>
<circle cx="237.6" cy="402.8" r="2.35"/>
<circle cx="186.4" cy="449.2" r="2.35"/>
<circle cx="198.6" cy="422.3" r="2.35"/>
<circle cx="176.6" cy="424.8" r="2.35"/>
<circle cx="198.6" cy="402.8" r="2.35"/>
<circle cx="191.3" cy="441.8" r="2.35"/>
<circle cx="154.7" cy="485.8" r="2.35"/>
<circle cx="208.3" cy="424.8" r="2.35"/>
<circle cx="213.2" cy="412.6" r="2.35"/>
<circle cx="164.4" cy="485.8" r="2.35"/>
<circle cx="181.5" cy="461.4" r="2.35"/>
<circle cx="174.2" cy="446.7" r="2.35"/>
<circle cx="203.5" cy="451.6" r="2.35"/>
<circle cx="218.1" cy="419.9" r="2.35"/>
<circle cx="159.5" cy="480.9" r="2.35"/>
<circle cx="179.1" cy="446.7" r="2.35"/>
<circle cx="227.9" cy="422.3" r="2.35"/>
<circle cx="205.9" cy="393.0" r="2.35"/>
<circle cx="223.0" cy="405.2" r="2.35"/>
<circle cx="213.2" cy="412.6" r="2.35"/>
<circle cx="181.5" cy="449.2" r="2.35"/>
<circle cx="164.4" cy="473.6" r="2.35"/>
<circle cx="230.3" cy="407.7" r="2.35"/>
<circle cx="171.7" cy="434.5" r="2.35"/>
<circle cx="205.9" cy="410.1" r="2.35"/>
<circle cx="162.0" cy="468.7" r="2.35"/>
<circle cx="137.6" cy="473.6" r="2.35"/>
<circle cx="203.5" cy="432.1" r="2.35"/>
<circle cx="171.7" cy="456.5" r="2.35"/>
<circle cx="162.0" cy="483.3" r="2.35"/>
<circle cx="193.7" cy="417.4" r="2.35"/>
<circle cx="210.8" cy="439.4" r="2.35"/>
<circle cx="164.4" cy="449.2" r="2.35"/>
<circle cx="157.1" cy="485.8" r="2.35"/>
<circle cx="232.7" cy="376.0" r="2.35"/>
<circle cx="159.5" cy="439.4" r="2.35"/>
<circle cx="227.9" cy="380.8" r="2.35"/>
<circle cx="154.7" cy="483.3" r="2.35"/>
<circle cx="193.7" cy="429.6" r="2.35"/>
<circle cx="166.9" cy="466.2" r="2.35"/>
<circle cx="188.8" cy="458.9" r="2.35"/>
<circle cx="210.8" cy="434.5" r="2.35"/>
<circle cx="176.6" cy="449.2" r="2.35"/>
<circle cx="203.5" cy="410.1" r="2.35"/>
<circle cx="210.8" cy="449.2" r="2.35"/>
<circle cx="166.9" cy="461.4" r="2.35"/>
<circle cx="149.8" cy="471.1" r="2.35"/>
<circle cx="162.0" cy="466.2" r="2.35"/>
<circle cx="223.0" cy="419.9" r="2.35"/>
<circle cx="149.8" cy="461.4" r="2.35"/>
<circle cx="203.5" cy="405.2" r="2.35"/>
<circle cx="203.5" cy="388.2" r="2.35"/>
<circle cx="201.0" cy="415.0" r="2.35"/>
<circle cx="164.4" cy="456.5" r="2.35"/>
<circle cx="154.7" cy="468.7" r="2.35"/>
<circle cx="208.3" cy="429.6" r="2.35"/>
<circle cx="162.0" cy="471.1" r="2.35"/>
<circle cx="215.7" cy="432.1" r="2.35"/>
<circle cx="181.5" cy="444.3" r="2.35"/>
<circle cx="149.8" cy="468.7" r="2.35"/>
<circle cx="223.0" cy="412.6" r="2.35"/>
<circle cx="174.2" cy="468.7" r="2.35"/>
<circle cx="179.1" cy="454.0" r="2.35"/>
<circle cx="203.5" cy="422.3" r="2.35"/>
<circle cx="223.0" cy="395.5" r="2.35"/>
<circle cx="171.7" cy="456.5" r="2.35"/>
<circle cx="183.9" cy="439.4" r="2.35"/>
<circle cx="174.2" cy="478.4" r="2.35"/>
<circle cx="188.8" cy="422.3" r="2.35"/>
<circle cx="188.8" cy="405.2" r="2.35"/>
<circle cx="186.4" cy="451.6" r="2.35"/>
<circle cx="154.7" cy="456.5" r="2.35"/>
<circle cx="162.0" cy="454.0" r="2.35"/>
<circle cx="181.5" cy="419.9" r="2.35"/>
<circle cx="144.9" cy="485.8" r="2.35"/>
<circle cx="196.1" cy="419.9" r="2.35"/>
<circle cx="179.1" cy="439.4" r="2.35"/>
<circle cx="193.7" cy="441.8" r="2.35"/>
<circle cx="140.0" cy="468.7" r="2.35"/>
<circle cx="171.7" cy="444.3" r="2.35"/>
<circle cx="191.3" cy="415.0" r="2.35"/>
<circle cx="208.3" cy="422.3" r="2.35"/>
<circle cx="179.1" cy="427.2" r="2.35"/>
<circle cx="218.1" cy="424.8" r="2.35"/>
<circle cx="164.4" cy="480.9" r="2.35"/>
<circle cx="169.3" cy="468.7" r="2.35"/>
<circle cx="225.4" cy="393.0" r="2.35"/>
<circle cx="213.2" cy="439.4" r="2.35"/>
<circle cx="149.8" cy="449.2" r="2.35"/>
<circle cx="205.9" cy="407.7" r="2.35"/>
<circle cx="132.7" cy="493.1" r="2.35"/>
<circle cx="191.3" cy="424.8" r="2.35"/>
<circle cx="176.6" cy="422.3" r="2.35"/>
<circle cx="237.6" cy="378.4" r="2.35"/>
<circle cx="223.0" cy="427.2" r="2.35"/>
<circle cx="159.5" cy="473.6" r="2.35"/>
<circle cx="196.1" cy="417.4" r="2.35"/>
<circle cx="215.7" cy="415.0" r="2.35"/>
<circle cx="169.3" cy="446.7" r="2.35"/>
<circle cx="181.5" cy="444.3" r="2.35"/>
<circle cx="154.7" cy="463.8" r="2.35"/>
<circle cx="223.0" cy="429.6" r="2.35"/>
<circle cx="196.1" cy="446.7" r="2.35"/>
<circle cx="203.5" cy="407.7" r="2.35"/>
<circle cx="179.1" cy="449.2" r="2.35"/>
<circle cx="162.0" cy="458.9" r="2.35"/>
<circle cx="152.2" cy="439.4" r="2.35"/>
<circle cx="225.4" cy="390.6" r="2.35"/>
<circle cx="225.4" cy="407.7" r="2.35"/>
<circle cx="235.2" cy="397.9" r="2.35"/>
<circle cx="181.5" cy="444.3" r="2.35"/>
<circle cx="198.6" cy="451.6" r="2.35"/>
<circle cx="196.1" cy="402.8" r="2.35"/>
<circle cx="225.4" cy="395.5" r="2.35"/>
<circle cx="166.9" cy="439.4" r="2.35"/>
<circle cx="159.5" cy="463.8" r="2.35"/>
<circle cx="332.8" cy="256.4" r="2.35"/>
<circle cx="323.0" cy="263.7" r="2.35"/>
<circle cx="308.4" cy="263.7" r="2.35"/>
<circle cx="274.2" cy="283.2" r="2.35"/>
<circle cx="281.5" cy="283.2" r="2.35"/>
<circle cx="252.3" cy="288.1" r="2.35"/>
<circle cx="313.3" cy="288.1" r="2.35"/>
<circle cx="266.9" cy="290.6" r="2.35"/>
<circle cx="293.7" cy="293.0" r="2.35"/>
<circle cx="262.0" cy="295.4" r="2.35"/>
<circle cx="240.1" cy="300.3" r="2.35"/>
<circle cx="242.5" cy="305.2" r="2.35"/>
<circle cx="247.4" cy="312.5" r="2.35"/>
<circle cx="284.0" cy="310.1" r="2.35"/>
<circle cx="288.9" cy="312.5" r="2.35"/>
<circle cx="259.6" cy="315.0" r="2.35"/>
<circle cx="262.0" cy="315.0" r="2.35"/>
<circle cx="257.1" cy="319.8" r="2.35"/>
<circle cx="291.3" cy="322.3" r="2.35"/>
<circle cx="247.4" cy="327.2" r="2.35"/>
<circle cx="271.8" cy="327.2" r="2.35"/>
<circle cx="313.3" cy="327.2" r="2.35"/>
<circle cx="301.1" cy="329.6" r="2.35"/>
<circle cx="249.8" cy="332.0" r="2.35"/>
<circle cx="252.3" cy="332.0" r="2.35"/>
<circle cx="281.5" cy="332.0" r="2.35"/>
<circle cx="257.1" cy="336.9" r="2.35"/>
<circle cx="262.0" cy="336.9" r="2.35"/>
<circle cx="257.1" cy="339.4" r="2.35"/>
<circle cx="281.5" cy="339.4" r="2.35"/>
<circle cx="291.3" cy="339.4" r="2.35"/>
<circle cx="242.5" cy="341.8" r="2.35"/>
<circle cx="281.5" cy="341.8" r="2.35"/>
<circle cx="259.6" cy="344.2" r="2.35"/>
<circle cx="288.9" cy="344.2" r="2.35"/>
<circle cx="240.1" cy="346.7" r="2.35"/>
<circle cx="257.1" cy="346.7" r="2.35"/>
<circle cx="259.6" cy="346.7" r="2.35"/>
<circle cx="296.2" cy="346.7" r="2.35"/>
<circle cx="308.4" cy="346.7" r="2.35"/>
<circle cx="249.8" cy="349.1" r="2.35"/>
<circle cx="264.5" cy="349.1" r="2.35"/>
<circle cx="240.1" cy="349.1" r="2.35"/>
<circle cx="242.5" cy="351.6" r="2.35"/>
<circle cx="247.4" cy="351.6" r="2.35"/>
<circle cx="279.1" cy="351.6" r="2.35"/>
<circle cx="240.1" cy="354.0" r="2.35"/>
<circle cx="242.5" cy="354.0" r="2.35"/>
<circle cx="259.6" cy="354.0" r="2.35"/>
<circle cx="242.5" cy="356.4" r="2.35"/>
<circle cx="247.4" cy="356.4" r="2.35"/>
<circle cx="252.3" cy="356.4" r="2.35"/>
<circle cx="266.9" cy="356.4" r="2.35"/>
<circle cx="286.4" cy="356.4" r="2.35"/>
<circle cx="244.9" cy="358.9" r="2.35"/>
<circle cx="266.9" cy="358.9" r="2.35"/>
<circle cx="259.6" cy="361.3" r="2.35"/>
<circle cx="274.2" cy="361.3" r="2.35"/>
<circle cx="244.9" cy="361.3" r="2.35"/>
<circle cx="518.2" cy="51.4" r="2.35"/>
<circle cx="262.0" cy="388.2" r="2.35"/>
<circle cx="264.5" cy="363.8" r="2.35"/>
<circle cx="266.9" cy="371.1" r="2.35"/>
<circle cx="266.9" cy="397.9" r="2.35"/>
<circle cx="269.3" cy="368.6" r="2.35"/>
<circle cx="269.3" cy="380.8" r="2.35"/>
<circle cx="269.3" cy="393.0" r="2.35"/>
<circle cx="269.3" cy="397.9" r="2.35"/>
<circle cx="269.3" cy="412.6" r="2.35"/>
<circle cx="271.8" cy="385.7" r="2.35"/>
<circle cx="271.8" cy="400.4" r="2.35"/>
<circle cx="274.2" cy="373.5" r="2.35"/>
<circle cx="276.7" cy="378.4" r="2.35"/>
<circle cx="279.1" cy="388.2" r="2.35"/>
<circle cx="281.5" cy="376.0" r="2.35"/>
<circle cx="284.0" cy="395.5" r="2.35"/>
<circle cx="235.2" cy="341.8" r="2.35"/>
<circle cx="218.1" cy="346.7" r="2.35"/>
<circle cx="237.6" cy="346.7" r="2.35"/>
<circle cx="227.9" cy="349.1" r="2.35"/>
<circle cx="230.3" cy="349.1" r="2.35"/>
<circle cx="232.7" cy="349.1" r="2.35"/>
<circle cx="210.8" cy="351.6" r="2.35"/>
<circle cx="225.4" cy="354.0" r="2.35"/>
<circle cx="227.9" cy="354.0" r="2.35"/>
<circle cx="235.2" cy="354.0" r="2.35"/>
<circle cx="210.8" cy="356.4" r="2.35"/>
<circle cx="232.7" cy="356.4" r="2.35"/>
<circle cx="237.6" cy="356.4" r="2.35"/>
<circle cx="201.0" cy="358.9" r="2.35"/>
<circle cx="220.5" cy="358.9" r="2.35"/>
<circle cx="203.5" cy="361.3" r="2.35"/>
<circle cx="205.9" cy="361.3" r="2.35"/>
<circle cx="225.4" cy="361.3" r="2.35"/>
<circle cx="232.7" cy="361.3" r="2.35"/>
<circle cx="237.6" cy="361.3" r="2.35"/>
<circle cx="201.0" cy="363.8" r="2.35"/>
<circle cx="210.8" cy="363.8" r="2.35"/>
<circle cx="215.7" cy="363.8" r="2.35"/>
<circle cx="225.4" cy="363.8" r="2.35"/>
<circle cx="242.5" cy="363.8" r="2.35"/>
<circle cx="244.9" cy="368.6" r="2.35"/>
<circle cx="244.9" cy="373.5" r="2.35"/>
<circle cx="247.4" cy="373.5" r="2.35"/>
<circle cx="249.8" cy="373.5" r="2.35"/>
<circle cx="252.3" cy="373.5" r="2.35"/>
<circle cx="257.1" cy="373.5" r="2.35"/>
<circle cx="244.9" cy="376.0" r="2.35"/>
<circle cx="242.5" cy="376.0" r="2.35"/>
<circle cx="254.7" cy="380.8" r="2.35"/>
<circle cx="242.5" cy="383.3" r="2.35"/>
<circle cx="244.9" cy="383.3" r="2.35"/>
<circle cx="254.7" cy="383.3" r="2.35"/>
<circle cx="252.3" cy="385.7" r="2.35"/>
<circle cx="254.7" cy="385.7" r="2.35"/>
<circle cx="249.8" cy="388.2" r="2.35"/>
<circle cx="252.3" cy="393.0" r="2.35"/>
<circle cx="254.7" cy="393.0" r="2.35"/>
<circle cx="242.5" cy="395.5" r="2.35"/>
<circle cx="252.3" cy="400.4" r="2.35"/>
<circle cx="249.8" cy="402.8" r="2.35"/>
<circle cx="244.9" cy="402.8" r="2.35"/>
<circle cx="257.1" cy="402.8" r="2.35"/>
<circle cx="259.6" cy="402.8" r="2.35"/>
<circle cx="244.9" cy="407.7" r="2.35"/>
<circle cx="259.6" cy="366.2" r="2.35"/>
<circle cx="259.6" cy="368.6" r="2.35"/>
<circle cx="262.0" cy="373.5" r="2.35"/>
<circle cx="225.4" cy="368.6" r="2.35"/>
<circle cx="237.6" cy="368.6" r="2.35"/>
<circle cx="225.4" cy="371.1" r="2.35"/>
<circle cx="232.7" cy="371.1" r="2.35"/>
<circle cx="215.7" cy="373.5" r="2.35"/>
<circle cx="227.9" cy="373.5" r="2.35"/>
<circle cx="232.7" cy="373.5" r="2.35"/>
<circle cx="225.4" cy="366.2" r="2.35"/>
<circle cx="240.1" cy="366.2" r="2.35"/>
<circle cx="240.1" cy="397.9" r="2.35"/>
<circle cx="240.1" cy="400.4" r="2.35"/>
<circle cx="240.1" cy="407.7" r="2.35"/>
<circle cx="237.6" cy="380.8" r="2.35"/>
<circle cx="227.9" cy="378.4" r="2.35"/>
<circle cx="230.3" cy="378.4" r="2.35"/>
<circle cx="162.0" cy="500.4" r="2.35"/>
<circle cx="174.2" cy="490.6" r="2.35"/>
<circle cx="174.2" cy="493.1" r="2.35"/>
<circle cx="179.1" cy="490.6" r="2.35"/>
<circle cx="181.5" cy="485.8" r="2.35"/>
<circle cx="193.7" cy="483.3" r="2.35"/>
<circle cx="198.6" cy="480.9" r="2.35"/>
<circle cx="201.0" cy="483.3" r="2.35"/>
<circle cx="213.2" cy="476.0" r="2.35"/>
<circle cx="186.4" cy="478.4" r="2.35"/>
<circle cx="188.8" cy="476.0" r="2.35"/>
<circle cx="181.5" cy="476.0" r="2.35"/>
<circle cx="181.5" cy="473.6" r="2.35"/>
<circle cx="198.6" cy="473.6" r="2.35"/>
<circle cx="198.6" cy="471.1" r="2.35"/>
<circle cx="205.9" cy="466.2" r="2.35"/>
<circle cx="208.3" cy="468.7" r="2.35"/>
<circle cx="201.0" cy="468.7" r="2.35"/>
<circle cx="201.0" cy="463.8" r="2.35"/>
<circle cx="186.4" cy="468.7" r="2.35"/>
<circle cx="186.4" cy="471.1" r="2.35"/>
<circle cx="191.3" cy="468.7" r="2.35"/>
<circle cx="191.3" cy="471.1" r="2.35"/>
<circle cx="218.1" cy="461.4" r="2.35"/>
<circle cx="220.5" cy="461.4" r="2.35"/>
<circle cx="225.4" cy="461.4" r="2.35"/>
<circle cx="208.3" cy="461.4" r="2.35"/>
<circle cx="213.2" cy="456.5" r="2.35"/>
<circle cx="232.7" cy="451.6" r="2.35"/>
<circle cx="213.2" cy="449.2" r="2.35"/>
<circle cx="215.7" cy="444.3" r="2.35"/>
<circle cx="223.0" cy="444.3" r="2.35"/>
<circle cx="227.9" cy="444.3" r="2.35"/>
<circle cx="220.5" cy="441.8" r="2.35"/>
<circle cx="232.7" cy="441.8" r="2.35"/>
<circle cx="237.6" cy="441.8" r="2.35"/>
<circle cx="235.2" cy="439.4" r="2.35"/>
<circle cx="218.1" cy="437.0" r="2.35"/>
<circle cx="223.0" cy="434.5" r="2.35"/>
<circle cx="225.4" cy="434.5" r="2.35"/>
<circle cx="227.9" cy="437.0" r="2.35"/>
<circle cx="232.7" cy="434.5" r="2.35"/>
<circle cx="237.6" cy="432.1" r="2.35"/>
<circle cx="237.6" cy="432.1" r="2.35"/>
<circle cx="230.3" cy="427.2" r="2.35"/>
<circle cx="230.3" cy="429.6" r="2.35"/>
<circle cx="247.4" cy="427.2" r="2.35"/>
<circle cx="247.4" cy="422.3" r="2.35"/>
<circle cx="257.1" cy="424.8" r="2.35"/>
<circle cx="240.1" cy="417.4" r="2.35"/>
<circle cx="240.1" cy="419.9" r="2.35"/>
<circle cx="244.9" cy="417.4" r="2.35"/>
<circle cx="232.7" cy="415.0" r="2.35"/>
<circle cx="232.7" cy="417.4" r="2.35"/>
<circle cx="201.0" cy="368.6" r="2.35"/>
<circle cx="203.5" cy="368.6" r="2.35"/>
<circle cx="186.4" cy="371.1" r="2.35"/>
<circle cx="188.8" cy="371.1" r="2.35"/>
<circle cx="210.8" cy="371.1" r="2.35"/>
<circle cx="213.2" cy="371.1" r="2.35"/>
<circle cx="198.6" cy="373.5" r="2.35"/>
<circle cx="201.0" cy="373.5" r="2.35"/>
<circle cx="213.2" cy="373.5" r="2.35"/>
<circle cx="215.7" cy="373.5" r="2.35"/>
<circle cx="193.7" cy="376.0" r="2.35"/>
<circle cx="196.1" cy="378.4" r="2.35"/>
<circle cx="191.3" cy="383.3" r="2.35"/>
<circle cx="188.8" cy="385.7" r="2.35"/>
<circle cx="176.6" cy="388.2" r="2.35"/>
<circle cx="183.9" cy="388.2" r="2.35"/>
<circle cx="179.1" cy="390.6" r="2.35"/>
<circle cx="176.6" cy="393.0" r="2.35"/>
<circle cx="171.7" cy="397.9" r="2.35"/>
<circle cx="174.2" cy="397.9" r="2.35"/>
<circle cx="166.9" cy="410.1" r="2.35"/>
<circle cx="162.0" cy="412.6" r="2.35"/>
<circle cx="162.0" cy="417.4" r="2.35"/>
<circle cx="164.4" cy="415.0" r="2.35"/>
<circle cx="157.1" cy="419.9" r="2.35"/>
<circle cx="149.8" cy="422.3" r="2.35"/>
<circle cx="149.8" cy="424.8" r="2.35"/>
<circle cx="159.5" cy="427.2" r="2.35"/>
<circle cx="154.7" cy="429.6" r="2.35"/>
<circle cx="157.1" cy="429.6" r="2.35"/>
<circle cx="142.5" cy="434.5" r="2.35"/>
<circle cx="147.3" cy="434.5" r="2.35"/>
<circle cx="147.3" cy="437.0" r="2.35"/>
<circle cx="152.2" cy="437.0" r="2.35"/>
<circle cx="137.6" cy="444.3" r="2.35"/>
<circle cx="140.0" cy="444.3" r="2.35"/>
<circle cx="135.1" cy="446.7" r="2.35"/>
<circle cx="132.7" cy="451.6" r="2.35"/>
<circle cx="130.3" cy="461.4" r="2.35"/>
<circle cx="137.6" cy="505.3" r="2.35"/>
<circle cx="140.0" cy="505.3" r="2.35"/>
<circle cx="144.9" cy="505.3" r="2.35"/>
<circle cx="147.3" cy="505.3" r="2.35"/>
<circle cx="137.6" cy="502.8" r="2.35"/>
<circle cx="144.9" cy="502.8" r="2.35"/>
<circle cx="132.7" cy="500.4" r="2.35"/>
<circle cx="132.7" cy="498.0" r="2.35"/>
<circle cx="130.3" cy="476.0" r="2.35"/>
<circle cx="130.3" cy="483.3" r="2.35"/>
<circle cx="130.3" cy="490.6" r="2.35"/>
<circle cx="130.3" cy="468.7" r="2.35"/>
<circle cx="132.7" cy="476.0" r="2.35"/>
<circle cx="149.8" cy="498.0" r="2.35"/>
<circle cx="147.3" cy="498.0" r="2.35"/>
<circle cx="154.7" cy="495.5" r="2.35"/>
<circle cx="159.5" cy="495.5" r="2.35"/>
</g>
<g class="s">
<circle cx="259.6" cy="273.5" r="2.35"/>
<circle cx="223.0" cy="290.6" r="2.35"/>
<circle cx="188.8" cy="341.8" r="2.35"/>
<circle cx="179.1" cy="346.7" r="2.35"/>
<circle cx="183.9" cy="368.6" r="2.35"/>
<circle cx="179.1" cy="376.0" r="2.35"/>
<circle cx="162.0" cy="383.3" r="2.35"/>
<circle cx="169.3" cy="388.2" r="2.35"/>
<circle cx="164.4" cy="395.5" r="2.35"/>
<circle cx="154.7" cy="407.7" r="2.35"/>
<circle cx="142.5" cy="432.1" r="2.35"/>
<circle cx="130.3" cy="439.4" r="2.35"/>
<circle cx="135.1" cy="441.8" r="2.35"/>
</g>
<clipPath id="cp"><rect x="79.5" y="27.5" width="526.1" height="526.1"/></clipPath>
<g clip-path="url(#cp)" fill="none" stroke-width="1.07" stroke-dasharray="4.95 3.59" stroke-dashoffset="0.55">
<line x1="79.50" y1="553.60" x2="605.60" y2="27.50" stroke="#000"/>
<line x1="79.50" y1="557.74" x2="605.60" y2="-35.18" stroke="#FF0000"/>
</g>
<path d="M79.5 27.5V553.6H605.6" fill="none" stroke="#333" stroke-width="1.5"/>
<line x1="103.41" x2="103.41" y1="553.6" y2="557.0" stroke="#333" stroke-width="1.1"/>
<line y1="529.69" y2="529.69" x1="76.1" x2="79.5" stroke="#333" stroke-width="1.1"/>
<text x="103.41" y="574" text-anchor="middle">0</text>
<text x="73.4" y="536.89" text-anchor="end">0</text>
<line x1="225.42" x2="225.42" y1="553.6" y2="557.0" stroke="#333" stroke-width="1.1"/>
<line y1="407.68" y2="407.68" x1="76.1" x2="79.5" stroke="#333" stroke-width="1.1"/>
<text x="225.42" y="574" text-anchor="middle">50</text>
<text x="73.4" y="414.88" text-anchor="end">50</text>
<line x1="347.43" x2="347.43" y1="553.6" y2="557.0" stroke="#333" stroke-width="1.1"/>
<line y1="285.67" y2="285.67" x1="76.1" x2="79.5" stroke="#333" stroke-width="1.1"/>
<text x="347.43" y="574" text-anchor="middle">100</text>
<text x="73.4" y="292.87" text-anchor="end">100</text>
<line x1="469.44" x2="469.44" y1="553.6" y2="557.0" stroke="#333" stroke-width="1.1"/>
<line y1="163.66" y2="163.66" x1="76.1" x2="79.5" stroke="#333" stroke-width="1.1"/>
<text x="469.44" y="574" text-anchor="middle">150</text>
<text x="73.4" y="170.86" text-anchor="end">150</text>
<line x1="591.45" x2="591.45" y1="553.6" y2="557.0" stroke="#333" stroke-width="1.1"/>
<line y1="41.65" y2="41.65" x1="76.1" x2="79.5" stroke="#333" stroke-width="1.1"/>
<text x="591.45" y="574" text-anchor="middle">200</text>
<text x="73.4" y="48.85" text-anchor="end">200</text>
<text class="b" x="79.6" y="21">Variant: rs610308</text>
<text class="b" x="329" y="21">Gene: PPP1R15A (ENSG00000087074)</text>
<text x="342.6" y="593.5" text-anchor="middle">Reference allele count</text>
<text transform="translate(33.7 290.7) rotate(-90)" text-anchor="middle">Alternative allele count</text>
<text x="622.5" y="269.5">Significance</text>
<circle cx="631" cy="282.6" r="4" fill="#B3B3B3"/>
<text x="642.2" y="289.6">Excluded</text>
<circle cx="631" cy="299.9" r="4" fill="#FF9010"/>
<text x="642.2" y="306.9">Non-significant</text>
<circle cx="631" cy="317.2" r="4" fill="#3A6FA8"/>
<text x="642.2" y="324.2">FDR &lt; 0.05</text>
</svg></body></html>
